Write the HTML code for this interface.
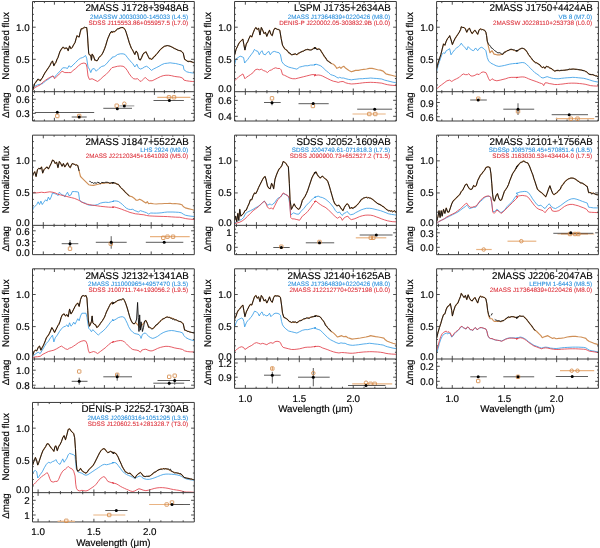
<!DOCTYPE html>
<html><head><meta charset="utf-8"><style>
html,body{margin:0;padding:0;background:#fff;width:600px;height:548px;overflow:hidden}
svg{display:block;font-family:"Liberation Sans",sans-serif;will-change:transform}
text{stroke:#000;stroke-width:0.16px}
text.b{stroke:#2a8fdc;stroke-width:0.08px}
text.r{stroke:#dc2e38;stroke-width:0.08px}
</style></head><body>
<svg width="600" height="548" viewBox="0 0 600 548" text-rendering="geometricPrecision" font-family='"Liberation Sans", sans-serif'><rect width="600" height="548" fill="#fff"/><clipPath id="c00"><rect x="32.5" y="1.5" width="161.8" height="90.2"/></clipPath>
<g clip-path="url(#c00)" fill="none" stroke-linejoin="round">
<path d="M32.68,89.68 34.73,86.26 37.47,84.89 40.2,84.21 42.93,83.52 45.67,80.79 49.08,78.74 52.5,76 54.55,77.37 56.6,74.64 60.02,71.22 62.75,67.8 65.48,67.8 67.53,68.48 68.9,65.75 70.95,67.12 73,65.07 75.73,62.33 78.47,59.6 80.52,58.23 82.57,57.55 83.93,56.86 85.57,55.5 86.67,58.23 88.03,67.12 89.4,69.17 90.77,72.59 92.13,69.17 94.18,68.48 96.23,71.22 98.97,68.48 101.7,66.43 104.43,65.75 107.17,63.02 109.9,59.6 111.95,58.23 112,57.28 114.77,56.58 117.53,54.51 120.3,53.82 123.07,53.82 125.14,54.51 127.22,57.28 129.98,60.74 132.75,63.5 134.82,66.96 136.9,64.19 138.28,67.65 140.36,69.04 142.43,68.34 144.51,66.96 146.58,66.27 148.66,67.65 151.43,70.42 153.5,69.04 156.27,67.65 159.03,66.27 161.8,64.61 164.57,63.5 167.33,63.23 170.1,62.81 172.87,63.23 175.63,63.5 178.4,64.19 181.17,64.89 183.24,65.58 183.93,69.73 186.7,71.8 189.47,72.49 192.23,72.91 195,73.19" stroke="#3a9ee6" stroke-width="0.85"/>
<path d="M32.68,90.36 34.73,87.62 37.47,86.26 40.2,84.89 42.93,82.16 45.67,80.11 49.77,77.37 53.18,76 54.55,78.74 56.6,76.69 59.33,73.95 62.07,71.22 64.8,72.59 68.22,72.59 70.95,72.59 73,70.54 75.73,68.48 78.47,65.75 81.2,63.7 83.93,63.02 85.98,63.7 86.94,67.12 88.03,76 89.4,79.42 92.13,78.74 94.87,80.11 97.6,81.47 100.33,79.42 103.07,76.69 105.8,74.64 108.53,71.9 111.27,68.48 112,67.65 114.77,66.96 117.53,66.27 120.3,65.99 123.07,66.27 125.14,67.65 127.22,70.42 129.29,73.88 131.37,76.64 133.44,78.72 135.52,79 137.59,78.72 139.67,80.79 141.05,81.49 143.12,79.41 145.2,77.34 147.28,79.41 149.35,80.79 152.12,80.79 154.88,79.41 157.65,78.03 160.42,76.64 163.18,75.68 165.95,75.26 168.72,75.26 171.48,75.68 174.25,76.37 177.02,76.78 179.78,77.06 182.55,78.03 183.93,80.1 186.7,80.79 189.47,81.21 192.23,81.49 195,81.49" stroke="#e2404a" stroke-width="0.85"/>
<path d="M32.68,90.36 34.73,83.52 36.78,80.79 38.83,79.42 40.2,80.79 42.25,78.05 44.3,73.95 47.03,69.85 49.77,65.75 52.5,60.96 53.87,65.75 55.92,62.33 57.97,57.55 60.02,51.39 62.75,47.29 64.8,48.66 66.85,47.98 68.22,50.71 69.58,45.93 70.95,48.66 72.32,47.29 75.05,42.51 77.1,35.67 79.15,37.04 81.2,28.84 83.25,28.15 85.3,27.47 86.67,27.47 87.35,32.94 88.03,43.88 88.72,53.45 89.4,54.81 90.77,55.5 91.45,60.28 92.13,54.13 93.5,56.18 94.87,60.28 96.92,60.96 98.97,57.55 101.7,54.81 103.75,50.71 105.8,45.24 107.85,38.41 109.9,33.62 111.95,31.57 112,32.38 114.77,31.68 117.53,28.92 120.3,27.81 123.07,27.53 125.14,29.61 127.22,35.83 129.29,42.75 131.37,48.28 133.44,51.74 134.82,54.51 136.21,51.05 137.59,53.13 138.97,59.35 140.36,60.04 141.74,57.28 143.82,53.13 145.89,51.74 147.28,54.51 149.35,58.66 151.43,59.35 153.5,57.28 156.27,54.51 159.03,51.05 161.8,48.28 164.57,46.21 167.33,45.52 170.1,46.21 172.87,47.59 175.63,48.98 178.4,50.36 181.17,51.05 183.24,53.13 184.62,59.35 186.7,60.74 189.47,61.43 192.23,62.12 195,62.81" stroke="#cf8f56" stroke-width="1.15"/>
<path d="M32.68,90.36 33.71,86.87 34.73,83.52 35.76,82.37 36.78,80.79 37.81,79.08 38.83,79.42 40.2,80.79 41.23,78.92 42.25,78.05 43.27,75.95 44.3,73.95 45.67,71.65 47.03,69.85 48.4,67.77 49.77,65.75 51.13,62.71 52.5,60.96 53.87,65.75 54.89,63.55 55.92,62.33 56.94,59.22 57.97,57.55 58.99,54.3 60.02,51.39 61.38,49.14 62.75,47.29 63.77,47.32 64.8,48.66 65.82,47.87 66.85,47.98 68.22,50.71 69.58,45.93 70.95,48.66 72.32,47.29 73.68,44.56 75.05,42.51 76.07,38.53 77.1,35.67 78.12,36.71 79.15,37.04 80.17,32.12 81.2,28.84 82.22,28.86 83.25,28.15 84.28,27.15 85.3,27.47 86.67,27.47 87.35,32.94 88.03,43.88 88.72,53.45 89.4,54.81 90.77,55.5 91.45,60.28 92.13,54.13 93.5,56.18 94.87,60.28 95.89,59.99 96.92,60.96 97.94,59.74 98.97,57.55 100.33,56.02 101.7,54.81 102.72,53.19 103.75,50.71 104.78,48.32 105.8,45.24 106.82,41.62 107.85,38.41 108.88,36.14 109.9,33.62 110.92,31.79 111.95,31.57 112,32.38 113.38,31.42 114.77,31.68 116.15,30.14 117.53,28.92 118.92,28.76 120.3,27.81 121.68,27.44 123.07,27.53 124.1,28.7 125.14,29.61 126.18,32.33 127.22,35.83 128.25,39.2 129.29,42.75 130.33,45.5 131.37,48.28 132.4,49.54 133.44,51.74 134.82,54.51 136.21,51.05 137.59,53.13 138.97,59.35 140.36,60.04 141.74,57.28 142.78,54.43 143.82,53.13 144.85,52.77 145.89,51.74 147.28,54.51 148.31,56.58 149.35,58.66 150.39,58.34 151.43,59.35 152.46,58.99 153.5,57.28 154.88,56.3 156.27,54.51 157.65,53.12 159.03,51.05 160.42,49.49 161.8,48.28 163.18,47.09 164.57,46.21 165.95,45.97 167.33,45.52 168.72,45.81 170.1,46.21 171.48,46.84 172.87,47.59 174.25,48.53 175.63,48.98 177.02,49.77 178.4,50.36 179.78,50.58 181.17,51.05 182.2,52.03 183.24,53.13 184.62,59.35 185.66,59.89 186.7,60.74 188.08,61.73 189.47,61.43 190.85,61.31 192.23,62.12 193.62,62.62 195,62.81" stroke="#141414" stroke-width="0.95"/>
</g>
<path d="M34.4,1.5v1.6M34.4,90.1v3.2M34.4,121v-1.6M44.4,1.5v1.6M44.4,90.1v3.2M44.4,121v-1.6M54.4,1.5v3.2M54.4,88.5v6.4M54.4,121v-3.2M64.4,1.5v1.6M64.4,90.1v3.2M64.4,121v-1.6M74.4,1.5v1.6M74.4,90.1v3.2M74.4,121v-1.6M84.4,1.5v1.6M84.4,90.1v3.2M84.4,121v-1.6M94.4,1.5v1.6M94.4,90.1v3.2M94.4,121v-1.6M104.4,1.5v3.2M104.4,88.5v6.4M104.4,121v-3.2M114.4,1.5v1.6M114.4,90.1v3.2M114.4,121v-1.6M124.4,1.5v1.6M124.4,90.1v3.2M124.4,121v-1.6M134.4,1.5v1.6M134.4,90.1v3.2M134.4,121v-1.6M144.4,1.5v1.6M144.4,90.1v3.2M144.4,121v-1.6M154.4,1.5v3.2M154.4,88.5v6.4M154.4,121v-3.2M164.4,1.5v1.6M164.4,90.1v3.2M164.4,121v-1.6M174.4,1.5v1.6M174.4,90.1v3.2M174.4,121v-1.6M184.4,1.5v1.6M184.4,90.1v3.2M184.4,121v-1.6M32.5,84.98h1.4M194.3,84.98h-1.4M32.5,78.56h1.4M194.3,78.56h-1.4M32.5,72.14h1.4M194.3,72.14h-1.4M32.5,65.72h1.4M194.3,65.72h-1.4M32.5,59.3h3.2M194.3,59.3h-3.2M32.5,52.88h1.4M194.3,52.88h-1.4M32.5,46.46h1.4M194.3,46.46h-1.4M32.5,40.04h1.4M194.3,40.04h-1.4M32.5,33.62h1.4M194.3,33.62h-1.4M32.5,27.2h3.2M194.3,27.2h-3.2M32.5,20.78h1.4M194.3,20.78h-1.4M32.5,14.36h1.4M194.3,14.36h-1.4M32.5,7.94h1.4M194.3,7.94h-1.4M32.5,95.5h1.4M194.3,95.5h-1.4M32.5,99.2h3.2M194.3,99.2h-3.2M32.5,102.6h1.4M194.3,102.6h-1.4M32.5,106.6h1.4M194.3,106.6h-1.4M32.5,110.1h1.4M194.3,110.1h-1.4M32.5,113.4h3.2M194.3,113.4h-3.2M32.5,117.1h1.4M194.3,117.1h-1.4M32.5,120.4h1.4M194.3,120.4h-1.4" stroke="#3a3a3a" stroke-width="0.9" fill="none"/>
<path d="M32.5,1.5H194.3V121H32.5ZM32.5,91.7H194.3" stroke="#3a3a3a" stroke-width="1.0" fill="none"/>
<path d="M34.8,112.5H94.2" stroke="#4a4a4a" stroke-width="0.9"/>
<circle cx="57.3" cy="112.3" r="1.5" fill="#000"/>
<rect x="55.6" y="114.3" width="3.4" height="3.4" rx="0.5" fill="none" stroke="#d48a48" stroke-width="0.85"/>
<path d="M71.7,117H86.7" stroke="#4a4a4a" stroke-width="0.9"/>
<rect x="77.5" y="114.3" width="3.4" height="3.4" rx="0.5" fill="none" stroke="#d48a48" stroke-width="0.85"/>
<circle cx="79.2" cy="117" r="1.5" fill="#000"/>
<path d="M103.3,108.3H132" stroke="#4a4a4a" stroke-width="0.9"/>
<rect x="115" y="104" width="3.4" height="3.4" rx="0.5" fill="none" stroke="#d48a48" stroke-width="0.85"/>
<circle cx="117.3" cy="108.7" r="1.5" fill="#000"/>
<path d="M119.3,105.9H134.3" stroke="#888" stroke-width="0.9"/>
<circle cx="124.3" cy="103.7" r="1.75" fill="none" stroke="#d48a48" stroke-width="0.85"/>
<circle cx="124.3" cy="105.9" r="1.5" fill="#000"/>
<path d="M157.3,97.3H190.4" stroke="#e9b382" stroke-width="1.2"/>
<rect x="167.3" y="95.6" width="3.4" height="3.4" rx="0.5" fill="none" stroke="#d48a48" stroke-width="0.85"/>
<rect x="172.3" y="95.6" width="3.4" height="3.4" rx="0.5" fill="none" stroke="#d48a48" stroke-width="0.85"/>
<path d="M153.5,100.5H183.9" stroke="#4a4a4a" stroke-width="0.9"/>
<circle cx="169.4" cy="100.5" r="1.5" fill="#000"/>
<text x="188.8" y="11.2" font-size="9.82" text-anchor="end" fill="#000">2MASS J1728+3948AB</text>
<text x="188.1" y="18.6" font-size="6.3" text-anchor="end" fill="#2a8fdc" class="b">2MASSW J0030300-145033 (L4.5)</text>
<text x="188.1" y="24.6" font-size="6.3" text-anchor="end" fill="#dc2e38" class="r">SDSS J115553.86+055957.5 (L7.0)</text>
<text x="29.7" y="30.7" font-size="9.8" text-anchor="end">1.0</text>
<text x="29.7" y="62.8" font-size="9.8" text-anchor="end">0.5</text>
<text x="29.7" y="92.2" font-size="9.8" text-anchor="end">0.0</text>
<text x="29.7" y="102.9" font-size="9.8" text-anchor="end">0.6</text>
<text x="29.7" y="117.1" font-size="9.8" text-anchor="end">0.3</text>
<text transform="translate(9.3,45.9) rotate(-90)" font-size="9.8" text-anchor="middle">Normalized flux</text>
<text transform="translate(9.3,105.1) rotate(-90)" font-size="9.8" text-anchor="middle">&#916;mag</text>
<clipPath id="c01"><rect x="234.55" y="1.5" width="161.8" height="90.2"/></clipPath>
<g clip-path="url(#c01)" fill="none" stroke-linejoin="round">
<path d="M234.68,64.38 236.05,58.91 238.1,57.55 240.15,56.18 242.2,56.86 243.57,57.55 244.66,63.02 246.3,60.96 247.67,59.6 249.03,57.55 251.08,54.81 253.13,52.08 254.5,49.34 255.87,50.71 257.92,51.39 259.28,54.81 260.65,52.08 262.02,50.71 263.38,54.13 265.43,54.81 266.8,52.76 268.85,51.39 270.22,54.81 272.27,52.08 274.32,51.39 276.37,52.08 279.1,52.76 280.47,54.81 281.83,61.65 283.88,64.38 285.93,65.75 288.67,67.12 291.4,67.8 294.13,68.48 296.87,69.17 299.6,67.12 302.33,66.43 305.07,65.75 307.8,65.75 310.53,65.07 313.27,65.07 316,64.38 314,64.89 316.07,64.19 318.15,64.89 320.23,65.58 322.3,66.96 324.38,69.04 326.45,71.11 328.52,72.49 330.6,74.57 332.68,75.26 334.75,75.95 336.82,77.34 338.21,78.03 339.59,77.34 341.67,78.03 343.74,78.03 345.82,78.72 348.58,79.41 351.35,79.83 354.12,79.41 356.88,79.13 359.65,78.72 362.42,78.72 365.18,78.44 367.95,78.3 370.72,78.03 373.48,78.3 376.25,78.44 379.02,78.72 381.78,79 384.55,80.1 387.32,80.79 390.08,81.49 392.85,82.18 395.62,82.59 397,82.87" stroke="#3a9ee6" stroke-width="0.85"/>
<path d="M234.68,80.79 236.73,78.74 238.78,76.69 240.83,75.32 242.88,73.95 243.84,76 244.93,78.74 246.3,77.37 248.35,76 250.4,74.64 253.13,72.59 255.18,69.85 257.23,69.17 259.28,69.85 261.33,69.17 263.38,70.54 265.43,71.22 267.48,72.59 269.53,70.54 271.58,69.85 273.63,68.48 275.68,67.8 277.73,68.48 279.78,68.48 281.15,69.85 282.52,74.64 284.57,75.32 287.3,76.69 290.03,78.05 292.77,78.74 295.5,78.74 298.23,78.05 300.97,77.37 303.7,76.69 306.43,76 309.17,75.32 311.9,74.64 316,74.64 314,75.95 316.07,75.26 318.15,74.98 320.23,75.26 322.3,75.95 325.07,77.34 327.83,78.72 330.6,80.1 333.37,81.21 336.13,81.76 338.21,82.45 340.28,81.76 343.05,81.49 345.82,82.87 348.58,83.56 351.35,83.98 354.12,83.84 356.88,83.56 359.65,83.28 362.42,82.87 365.18,82.59 367.95,82.45 370.72,82.32 373.48,82.45 376.25,82.59 379.02,82.87 381.78,83.15 384.55,83.98 387.32,84.67 390.08,85.08 392.85,85.36 397,85.64" stroke="#e2404a" stroke-width="0.85"/>
<path d="M234.68,54.81 236.05,49.34 237.42,46.61 239.47,42.51 241.52,40.46 242.88,39.09 243.84,44.56 244.93,50.03 246.3,43.88 247.67,41.82 249.03,38.41 250.4,35.67 251.77,37.04 253.13,32.94 254.5,29.52 255.87,27.47 257.23,29.52 258.6,28.15 259.97,34.99 261.33,27.47 262.7,30.2 264.07,33.62 265.43,32.25 266.8,36.36 268.17,32.94 269.53,30.2 270.9,34.3 272.27,35.67 273.63,30.2 275,28.15 276.37,28.84 277.73,29.52 279.78,30.2 281.15,38.41 282.52,45.24 284.57,48.66 286.62,50.03 288.67,52.76 291.4,54.81 294.13,54.13 296.87,54.81 299.6,52.76 302.33,51.39 305.07,50.03 307.8,49.34 310.53,50.03 313.27,48.66 316,47.98 314,47.59 316.07,48.28 318.15,48.98 320.23,49.67 322.3,53.13 324.38,56.58 326.45,59.35 328.52,61.43 330.6,62.81 331.29,63.5 333.37,64.19 335.44,66.27 336.82,68.34 338.21,67.65 339.59,66.96 340.98,68.34 342.36,66.96 343.74,66.27 345.82,68.34 347.89,69.73 349.97,71.11 351.35,71.8 353.43,71.11 355.5,70.42 358.27,70.42 361.03,69.73 363.8,69.31 366.57,69.04 369.33,68.34 372.1,68.34 374.87,69.04 377.63,69.73 380.4,70.14 383.17,71.11 384.55,72.49 385.93,73.88 388.7,74.57 391.47,75.26 394.23,75.95 397,76.64" stroke="#cf8f56" stroke-width="1.15"/>
<path d="M234.68,54.81 236.05,49.34 237.42,46.61 238.44,44.06 239.47,42.51 240.49,41.46 241.52,40.46 242.88,39.09 243.84,44.56 244.93,50.03 246.3,43.88 247.67,41.82 249.03,38.41 250.4,35.67 251.77,37.04 253.13,32.94 254.5,29.52 255.87,27.47 257.23,29.52 258.6,28.15 259.97,34.99 261.33,27.47 262.7,30.2 264.07,33.62 265.43,32.25 266.8,36.36 268.17,32.94 269.53,30.2 270.9,34.3 272.27,35.67 273.63,30.2 275,28.15 276.37,28.84 277.73,29.52 278.76,29.45 279.78,30.2 281.15,38.41 282.52,45.24 283.54,46.79 284.57,48.66 285.59,49.48 286.62,50.03 287.64,51.17 288.67,52.76 290.03,53.06 291.4,54.81 292.77,54.71 294.13,54.13 295.5,53.7 296.87,54.81 298.23,53.18 299.6,52.76 300.97,51.98 302.33,51.39 303.7,51.12 305.07,50.03 306.43,49.6 307.8,49.34 309.17,49.91 310.53,50.03 311.9,49.82 313.27,48.66 314.63,48.56 316,47.98 315,47.61 314,47.59 315.04,48.5 316.07,48.28 317.11,50.04 318.15,48.98 319.19,48.97 320.23,49.67 321.26,51.47 322.3,53.13 323.34,54.46 324.38,56.58 325.41,57.25 326.45,59.35 327.49,61.03 328.52,61.43 329.56,62.2 330.6,62.81 331.29,63.5" stroke="#141414" stroke-width="0.95"/>
</g>
<path d="M245.35,1.5v3.2M245.35,88.5v6.4M245.35,121v-3.2M256.14,1.5v1.6M256.14,90.1v3.2M256.14,121v-1.6M266.93,1.5v1.6M266.93,90.1v3.2M266.93,121v-1.6M277.72,1.5v1.6M277.72,90.1v3.2M277.72,121v-1.6M288.51,1.5v1.6M288.51,90.1v3.2M288.51,121v-1.6M299.3,1.5v3.2M299.3,88.5v6.4M299.3,121v-3.2M310.09,1.5v1.6M310.09,90.1v3.2M310.09,121v-1.6M320.88,1.5v1.6M320.88,90.1v3.2M320.88,121v-1.6M331.67,1.5v1.6M331.67,90.1v3.2M331.67,121v-1.6M342.46,1.5v1.6M342.46,90.1v3.2M342.46,121v-1.6M353.25,1.5v3.2M353.25,88.5v6.4M353.25,121v-3.2M364.04,1.5v1.6M364.04,90.1v3.2M364.04,121v-1.6M374.83,1.5v1.6M374.83,90.1v3.2M374.83,121v-1.6M385.62,1.5v1.6M385.62,90.1v3.2M385.62,121v-1.6M234.55,84.98h1.4M396.35,84.98h-1.4M234.55,78.56h1.4M396.35,78.56h-1.4M234.55,72.14h1.4M396.35,72.14h-1.4M234.55,65.72h1.4M396.35,65.72h-1.4M234.55,59.3h3.2M396.35,59.3h-3.2M234.55,52.88h1.4M396.35,52.88h-1.4M234.55,46.46h1.4M396.35,46.46h-1.4M234.55,40.04h1.4M396.35,40.04h-1.4M234.55,33.62h1.4M396.35,33.62h-1.4M234.55,27.2h3.2M396.35,27.2h-3.2M234.55,20.78h1.4M396.35,20.78h-1.4M234.55,14.36h1.4M396.35,14.36h-1.4M234.55,7.94h1.4M396.35,7.94h-1.4M234.55,96.3h1.4M396.35,96.3h-1.4M234.55,100.3h3.2M396.35,100.3h-3.2M234.55,104.3h1.4M396.35,104.3h-1.4M234.55,108.3h1.4M396.35,108.3h-1.4M234.55,112.3h1.4M396.35,112.3h-1.4M234.55,116.3h3.2M396.35,116.3h-3.2M234.55,120.3h1.4M396.35,120.3h-1.4" stroke="#3a3a3a" stroke-width="0.9" fill="none"/>
<path d="M234.55,1.5H396.35V121H234.55ZM234.55,91.7H396.35" stroke="#3a3a3a" stroke-width="1.0" fill="none"/>
<path d="M264,102.5H280.7" stroke="#4a4a4a" stroke-width="0.9"/>
<path d="M272,100.8V105.3" stroke="#4a4a4a" stroke-width="0.9"/>
<rect x="270.3" y="96.6" width="3.4" height="3.4" rx="0.5" fill="none" stroke="#d48a48" stroke-width="0.85"/>
<circle cx="272" cy="102.8" r="1.5" fill="#000"/>
<path d="M298.5,103.7H328.7" stroke="#4a4a4a" stroke-width="0.9"/>
<rect x="311.2" y="104.3" width="3.4" height="3.4" rx="0.5" fill="none" stroke="#d48a48" stroke-width="0.85"/>
<circle cx="313.2" cy="103.4" r="1.5" fill="#000"/>
<path d="M352.5,114H385.7" stroke="#e9b382" stroke-width="1.2"/>
<rect x="367.6" y="112.3" width="3.4" height="3.4" rx="0.5" fill="none" stroke="#d48a48" stroke-width="0.85"/>
<rect x="373.6" y="112.3" width="3.4" height="3.4" rx="0.5" fill="none" stroke="#d48a48" stroke-width="0.85"/>
<path d="M357.2,109.2H392.1" stroke="#4a4a4a" stroke-width="0.9"/>
<circle cx="374.7" cy="109.2" r="1.5" fill="#000"/>
<text x="390.85" y="11.2" font-size="9.82" text-anchor="end" fill="#000">LSPM J1735+2634AB</text>
<text x="390.15" y="18.6" font-size="6.3" text-anchor="end" fill="#2a8fdc" class="b">2MASS J17364839+0220426 (M8.0)</text>
<text x="390.15" y="24.6" font-size="6.3" text-anchor="end" fill="#dc2e38" class="r">DENIS-P J220002.05-303832.9B (L0.0)</text>
<text x="231.75" y="30.7" font-size="9.8" text-anchor="end">1.0</text>
<text x="231.75" y="62.8" font-size="9.8" text-anchor="end">0.5</text>
<text x="231.75" y="92.2" font-size="9.8" text-anchor="end">0.0</text>
<text x="231.75" y="104.3" font-size="9.8" text-anchor="end">0.6</text>
<text x="231.75" y="120.2" font-size="9.8" text-anchor="end">0.4</text>
<text transform="translate(211.35,45.9) rotate(-90)" font-size="9.8" text-anchor="middle">Normalized flux</text>
<text transform="translate(211.35,105.1) rotate(-90)" font-size="9.8" text-anchor="middle">&#916;mag</text>
<clipPath id="c02"><rect x="436.6" y="1.5" width="161.8" height="90.2"/></clipPath>
<g clip-path="url(#c02)" fill="none" stroke-linejoin="round">
<path d="M436.68,71.22 438.05,65.75 439.42,61.65 440.78,57.55 442.15,54.13 443.52,52.76 444.88,53.45 446.25,50.71 447.62,50.03 449.67,48.66 451.03,54.81 452.4,52.76 454.45,50.03 456.5,47.98 458.55,46.61 459.92,45.24 461.28,43.19 462.65,45.24 464.02,46.61 465.38,47.98 466.75,50.03 468.12,46.61 469.48,47.98 471.53,50.03 473.58,50.71 475.63,47.98 477.68,50.71 479.73,47.98 481.78,47.29 483.83,48.66 485.88,50.71 487.25,57.55 488.62,60.96 490.67,63.02 493.4,64.38 496.13,65.75 498.87,66.43 501.6,66.02 504.33,65.48 507.07,64.79 509.8,64.11 512.53,63.7 515.27,63.43 518,63.43 516,63.5 518.08,63.23 520.15,62.81 522.23,62.53 524.3,62.81 526.38,64.19 528.45,66.27 530.52,68.34 532.6,70.42 534.67,72.49 536.75,73.88 538.83,75.26 540.9,77.34 542.98,78.03 545.05,77.34 547.12,76.64 549.2,77.34 551.27,78.03 553.35,78.44 556.12,78.72 558.88,78.72 561.65,78.3 564.42,78.03 567.18,77.75 569.95,77.61 572.72,77.34 575.48,77.47 578.25,77.75 581.02,78.03 583.78,78.3 586.55,79 589.32,79.83 592.08,80.79 594.85,81.49 599,82.18" stroke="#3a9ee6" stroke-width="0.85"/>
<path d="M436.68,88.99 438.73,86.94 441.47,84.89 444.2,82.84 446.93,80.79 449.67,80.11 451.72,81.47 453.77,80.11 456.5,78.74 459.23,77.37 461.28,75.32 463.33,73.95 465.38,74.64 467.43,74.64 468.8,73.68 470.85,76 472.9,76 474.95,75.32 477,73.95 479.05,74.64 481.1,72.59 483.15,71.9 485.88,72.59 487.25,75.32 488.62,78.74 489.98,80.79 492.03,78.74 494.08,80.11 496.82,80.79 500.23,80.11 502.97,79.42 505.7,78.74 508.43,77.78 511.17,77.37 513.9,77.37 518,77.37 516,77.75 518.08,77.34 520.15,77.06 522.23,76.92 524.3,77.06 526.38,77.75 528.45,78.72 531.22,79.83 533.98,80.79 536.75,81.76 539.52,82.87 541.59,83.56 542.98,84.25 543.67,85.64 545.05,82.87 547.12,82.87 549.2,83.56 551.97,83.98 554.73,84.53 557.5,84.53 560.27,84.25 563.03,83.98 565.8,83.56 568.57,83.28 571.33,83.15 574.1,83.15 576.87,83.28 579.63,83.56 582.4,83.84 585.17,84.25 587.93,84.94 590.7,85.64 593.47,85.91 596.23,86.05 599,86.05" stroke="#e2404a" stroke-width="0.85"/>
<path d="M436.68,68.48 438.05,63.02 439.42,58.91 440.78,54.81 442.15,49.34 443.52,43.88 444.88,45.24 446.25,41.14 447.62,38.41 448.98,37.04 449.67,35.67 451.03,39.77 452.4,44.56 453.77,41.14 455.13,38.41 456.5,36.36 457.87,34.3 459.23,32.25 460.6,29.52 461.28,26.79 462.65,27.47 464.02,27.47 465.38,28.84 466.75,32.25 468.12,29.52 469.48,28.15 470.85,31.57 472.22,33.62 473.58,31.57 474.95,30.2 476.32,32.25 477.68,34.3 479.05,30.2 480.42,28.84 482.47,29.52 484.52,30.2 485.88,32.25 486.57,35.67 487.25,41.14 488.62,47.29 489.98,52.76 492.03,50.71 494.08,54.13 496.82,54.81 500.23,54.81 502.97,54.13 505.02,52.08 507.07,50.71 509.12,50.03 511.17,49.34 513.22,50.03 515.27,50.71 518,50.71 516,51.05 518.08,50.36 520.15,48.98 522.23,48.28 524.3,48.98 526.38,51.05 528.45,54.51 530.52,57.28 532.6,60.04 534.67,62.12 536.75,62.81 538.83,64.19 540.9,66.27 542.28,67.65 543.67,66.96 545.05,68.34 546.43,66.27 548.51,66.96 550.58,68.34 552.66,69.73 554.73,71.11 556.81,70.42 559.58,70.7 562.34,70.42 565.11,70.14 567.88,69.73 570.64,69.31 573.41,69.04 576.17,69.31 578.94,69.73 581.71,70.14 584.48,70.7 586.55,71.8 588.62,73.88 591.39,74.57 594.16,75.26 596.92,75.95 599,76.64" stroke="#cf8f56" stroke-width="1.15"/>
<path d="M436.68,68.48 438.05,63.02 439.42,58.91 440.78,54.81 442.15,49.34 443.52,43.88 444.88,45.24 446.25,41.14 447.62,38.41 448.98,37.04 449.67,35.67 451.03,39.77 452.4,44.56 453.77,41.14 455.13,38.41 456.5,36.36 457.87,34.3 459.23,32.25 460.6,29.52 461.28,26.79 462.65,27.47 464.02,27.47 465.38,28.84 466.75,32.25 468.12,29.52 469.48,28.15 470.85,31.57 472.22,33.62 473.58,31.57 474.95,30.2 476.32,32.25 477.68,34.3 479.05,30.2 480.42,28.84 481.44,29.81 482.47,29.52 483.49,29.93 484.52,30.2 485.88,32.25 486.57,35.67 487.25,41.14 488.62,44.56 489.64,45.2 490.67,46.61 491.69,48.28 492.72,48.66 493.74,49.66 494.77,50.71 495.79,51.4 496.82,52.08 497.84,52.83 498.87,52.76 499.89,52.74 500.92,53.45 501.94,54.32 502.97,54.13 503.99,52.24 505.02,52.08 506.04,51.78 507.07,50.71 508.09,50.7 509.12,50.03 510.14,49.44 511.17,49.34 512.19,49.41 513.22,50.03 514.24,49.55 515.27,50.71 516.63,51.09 518,50.71 517,50.59 516,51.05 517.04,50.5 518.08,50.36 519.11,49.45 520.15,48.98 521.19,48.34 522.23,48.28 523.26,48.36 524.3,48.98 525.34,49.61 526.38,51.05 527.41,52.35 528.45,54.51 529.49,55.75 530.52,57.28 531.56,58.26 532.6,60.04 533.64,60.74 534.67,62.12 535.71,62.97 536.75,62.81 537.79,63.87 538.83,64.19 539.86,64.75 540.9,66.27 542.28,67.65 543.67,66.96 545.05,68.34 546.43,66.27 547.47,66.76 548.51,66.96 549.55,67.99 550.58,68.34 551.62,68.52 552.66,69.73 553.7,70.36 554.73,71.11 555.77,70.76 556.81,70.42 558.19,70.28 559.58,70.7 560.96,70.26 562.34,70.42 563.73,70.24 565.11,70.14 566.49,69.91 567.88,69.73 569.26,69.02 570.64,69.31 572.02,69.1 573.41,69.04 574.79,69.23 576.17,69.31 577.56,69.38 578.94,69.73 580.33,69.85 581.71,70.14 583.09,70.67 584.48,70.7 585.51,71.74 586.55,71.8 587.59,72.58 588.62,73.88 590.01,74.59 591.39,74.57 592.77,74.49 594.16,75.26 595.54,75.92 596.92,75.95 597.96,77.26 599,76.64" stroke="#141414" stroke-width="0.95"/>
</g>
<path d="M441.81,1.5v1.6M441.81,90.1v3.2M441.81,121v-1.6M452.25,1.5v3.2M452.25,88.5v6.4M452.25,121v-3.2M462.69,1.5v1.6M462.69,90.1v3.2M462.69,121v-1.6M473.13,1.5v1.6M473.13,90.1v3.2M473.13,121v-1.6M483.57,1.5v1.6M483.57,90.1v3.2M483.57,121v-1.6M494.01,1.5v1.6M494.01,90.1v3.2M494.01,121v-1.6M504.45,1.5v3.2M504.45,88.5v6.4M504.45,121v-3.2M514.89,1.5v1.6M514.89,90.1v3.2M514.89,121v-1.6M525.33,1.5v1.6M525.33,90.1v3.2M525.33,121v-1.6M535.77,1.5v1.6M535.77,90.1v3.2M535.77,121v-1.6M546.21,1.5v1.6M546.21,90.1v3.2M546.21,121v-1.6M556.65,1.5v3.2M556.65,88.5v6.4M556.65,121v-3.2M567.09,1.5v1.6M567.09,90.1v3.2M567.09,121v-1.6M577.53,1.5v1.6M577.53,90.1v3.2M577.53,121v-1.6M587.97,1.5v1.6M587.97,90.1v3.2M587.97,121v-1.6M436.6,84.98h1.4M598.4,84.98h-1.4M436.6,78.56h1.4M598.4,78.56h-1.4M436.6,72.14h1.4M598.4,72.14h-1.4M436.6,65.72h1.4M598.4,65.72h-1.4M436.6,59.3h3.2M598.4,59.3h-3.2M436.6,52.88h1.4M598.4,52.88h-1.4M436.6,46.46h1.4M598.4,46.46h-1.4M436.6,40.04h1.4M598.4,40.04h-1.4M436.6,33.62h1.4M598.4,33.62h-1.4M436.6,27.2h3.2M598.4,27.2h-3.2M436.6,20.78h1.4M598.4,20.78h-1.4M436.6,14.36h1.4M598.4,14.36h-1.4M436.6,7.94h1.4M598.4,7.94h-1.4M436.6,95.4h1.4M598.4,95.4h-1.4M436.6,98.95h1.4M598.4,98.95h-1.4M436.6,102.5h3.2M598.4,102.5h-3.2M436.6,106.05h1.4M598.4,106.05h-1.4M436.6,109.6h1.4M598.4,109.6h-1.4M436.6,113.15h1.4M598.4,113.15h-1.4M436.6,116.7h3.2M598.4,116.7h-3.2M436.6,120.25h1.4M598.4,120.25h-1.4" stroke="#3a3a3a" stroke-width="0.9" fill="none"/>
<path d="M436.6,1.5H598.4V121H436.6ZM436.6,91.7H598.4" stroke="#3a3a3a" stroke-width="1.0" fill="none"/>
<path d="M470.2,100H486.8" stroke="#4a4a4a" stroke-width="0.9"/>
<rect x="476.5" y="97" width="3.4" height="3.4" rx="0.5" fill="none" stroke="#d48a48" stroke-width="0.85"/>
<circle cx="478.2" cy="100" r="1.5" fill="#000"/>
<path d="M503.3,109.2H534.2" stroke="#4a4a4a" stroke-width="0.9"/>
<path d="M518,103.3V115" stroke="#4a4a4a" stroke-width="0.9"/>
<rect x="516.3" y="109.6" width="3.4" height="3.4" rx="0.5" fill="none" stroke="#d48a48" stroke-width="0.85"/>
<circle cx="518" cy="109.2" r="1.5" fill="#000"/>
<path d="M555.8,118.7H594.2" stroke="#e9b382" stroke-width="1.2"/>
<rect x="569.1" y="117" width="3.4" height="3.4" rx="0.5" fill="none" stroke="#d48a48" stroke-width="0.85"/>
<rect x="575.8" y="117" width="3.4" height="3.4" rx="0.5" fill="none" stroke="#d48a48" stroke-width="0.85"/>
<path d="M551.7,114.7H588" stroke="#4a4a4a" stroke-width="0.9"/>
<circle cx="569.2" cy="114.7" r="1.5" fill="#000"/>
<text x="592.9" y="11.2" font-size="9.82" text-anchor="end" fill="#000">2MASS J1750+4424AB</text>
<text x="592.2" y="18.6" font-size="6.3" text-anchor="end" fill="#2a8fdc" class="b">VB 8 (M7.0)</text>
<text x="592.2" y="24.6" font-size="6.3" text-anchor="end" fill="#dc2e38" class="r">2MASSW J0228110+253738 (L0.0)</text>
<text x="433.8" y="30.7" font-size="9.8" text-anchor="end">1.0</text>
<text x="433.8" y="62.8" font-size="9.8" text-anchor="end">0.5</text>
<text x="433.8" y="92.2" font-size="9.8" text-anchor="end">0.0</text>
<text x="433.8" y="106.5" font-size="9.8" text-anchor="end">0.9</text>
<text x="433.8" y="120.9" font-size="9.8" text-anchor="end">0.6</text>
<text transform="translate(413.4,45.9) rotate(-90)" font-size="9.8" text-anchor="middle">Normalized flux</text>
<text transform="translate(413.4,105.1) rotate(-90)" font-size="9.8" text-anchor="middle">&#916;mag</text>
<clipPath id="c10"><rect x="32.5" y="135.15" width="161.8" height="90.2"/></clipPath>
<g clip-path="url(#c10)" fill="none" stroke-linejoin="round">
<path d="M32.41,210.69 33.37,207.95 34.73,206.59 36.78,204.54 38.15,201.8 39.52,204.54 40.88,201.12 42.25,204.54 43.62,202.48 45.67,199.75 47.03,201.12 48.4,197.02 49.77,199.75 51.13,197.02 52.5,192.91 54.55,193.6 56.6,194.28 57.97,195.65 59.33,192.23 60.7,193.6 62.07,194.96 63.43,194.96 64.8,197.02 66.17,194.28 67.53,192.23 68.9,195.65 70.95,194.96 72.32,191.55 74.37,191.55 77.1,191.82 78.47,192.23 79.56,199.75 81.2,201.8 83.25,202.48 85.3,203.17 87.35,204.54 89.4,205.22 92.13,205.22 94.87,205.22 97.6,204.54 100.33,203.17 103.07,202.48 105.8,202.21 108.53,202.48 111.27,201.8 114,201.12 112,201.65 114.08,200.96 116.15,200.96 118.22,201.38 120.3,202.76 122.38,204.42 124.45,206.49 126.53,208.29 128.6,209.26 130.68,209.54 132.75,209.26 134.82,210.64 136.9,211.34 138.28,212.03 140.36,210.64 142.43,211.34 144.51,212.03 146.58,212.72 148.66,214.1 150.73,213 153.5,213.13 156.27,213.13 159.03,213 161.8,212.72 164.57,212.3 167.33,212.03 170.1,212.03 172.87,212.03 175.63,212.17 178.4,212.3 181.17,212.72 183.24,214.1 185.32,215.21 188.08,215.76 190.85,216.18 195,216.59" stroke="#3a9ee6" stroke-width="0.85"/>
<path d="M32.41,193.6 34.05,192.23 36.1,192.91 38.83,192.64 41.57,192.23 44.3,192.64 47.03,192.23 49.77,191.82 52.5,192.23 55.23,192.91 57.97,194.28 60.7,194.96 63.43,195.65 66.17,196.33 68.9,197.02 71.63,197.7 74.37,198.38 77.1,199.48 79.15,200.43 81.2,201.8 83.93,203.17 86.67,204.12 89.4,204.54 92.13,205.22 94.87,205.49 97.6,205.9 100.33,206.31 103.07,206.59 105.8,206.86 108.53,207.13 111.27,207.27 114,207.27 112,207.19 114.08,206.91 116.15,207.46 118.92,208.29 121.68,209.26 124.45,210.37 127.22,211.34 129.98,212.44 132.75,213.13 135.52,213.83 138.28,214.1 141.05,214.52 143.82,214.79 146.58,215.49 149.35,215.9 152.12,216.04 154.88,216.18 159.03,216.32 163.18,216.45 167.33,216.59 171.48,216.87 175.63,217.15 179.78,217.28 182.55,217.84 185.32,218.53 188.08,218.94 190.85,219.22 195,219.64" stroke="#e2404a" stroke-width="0.85"/>
<path d="M32.41,176.51 33.37,173.77 34.73,171.72 36.1,176.51 37.47,169.67 38.83,168.3 40.2,168.99 41.57,166.94 42.66,173.09 44.03,169.67 45.39,168.3 47.03,166.94 48.4,168.99 49.77,166.25 51.13,163.52 52.5,160.1 53.87,160.79 55.23,163.52 56.6,162.15 57.97,167.62 59.33,161.47 60.7,163.52 62.07,166.25 63.43,163.52 64.8,166.94 66.17,164.89 67.53,162.84 68.9,166.25 70.27,167.62 72.32,163.52 74.37,164.2 76.42,164.89 77.78,165.57 79.15,171.04 80.52,176.51 82.57,178.56 84.62,180.61 86.67,182.66 88.72,184.71 90.77,185.12 93.5,185.39 96.23,184.71 98.97,184.03 101.7,183.34 104.43,183.07 107.17,182.66 109.9,183.34 114,182.66 112,182.98 114.08,182.98 116.15,183.67 118.22,184.36 120.3,187.13 122.38,189.2 124.45,191.28 126.53,193.35 128.6,195.43 129.98,196.12 132.06,196.81 134.13,198.19 136.21,200.27 137.59,200.27 139.67,199.16 141.74,200.27 143.82,201.65 145.89,203.04 147.28,201.65 148.66,203.73 150.73,203.31 153.5,203.73 156.27,204 159.03,203.73 161.8,203.73 164.57,203.45 167.33,203.45 170.1,203.31 172.87,203.73 174.94,203.45 177.02,203.73 179.78,204.14 181.86,204.7 183.24,206.49 185.32,207.88 188.08,208.57 190.85,209.26 193.62,209.95 195,210.23" stroke="#cf8f56" stroke-width="1.15"/>
<path d="M32.41,176.51 33.37,173.77 34.73,171.72 36.1,176.51 37.47,169.67 38.83,168.3 40.2,168.99 41.57,166.94 42.66,173.09 44.03,169.67 45.39,168.3 47.03,166.94 48.4,168.99 49.77,166.25 51.13,163.52 52.5,160.1 53.87,160.79 55.23,163.52 56.6,162.15 57.97,167.62 59.33,161.47 60.7,163.52 62.07,166.25 63.43,163.52 64.8,166.94 66.17,164.89 67.53,162.84 68.9,166.25 70.27,167.62 71.29,165.11 72.32,163.52 73.34,164.01 74.37,164.2 75.39,165.29 76.42,164.89 77.78,165.57 79.15,171.04" stroke="#141414" stroke-width="0.95"/>
<path d="M89.4,181.29 90.42,181.5 91.45,182.66 92.47,182.51 93.5,183.34 94.87,182.73 96.23,183.34 97.6,182.3 98.97,182.66 100.33,183.77 101.7,182.39 103.07,182.67 104.43,182.66 105.8,182.23 107.17,182.25 108.53,182.51 109.9,183.34 110.92,182.93 111.95,182.66 112.97,182.97 114,182.39 113,182.87 112,182.98 113.04,182.74 114.08,182.98 115.11,182.96 116.15,183.67 117.19,184.29 118.22,184.36 119.26,185.26 120.3,187.13 121.34,188.05 122.38,189.2 123.41,189.83 124.45,191.28 125.49,192.6 126.53,193.35 127.56,194.1 128.6,195.43 129.29,195.84" stroke="#141414" stroke-width="0.95"/>
</g>
<path d="M43.3,135.15v3.2M43.3,222.15v6.4M43.3,254.65v-3.2M54.09,135.15v1.6M54.09,223.75v3.2M54.09,254.65v-1.6M64.88,135.15v1.6M64.88,223.75v3.2M64.88,254.65v-1.6M75.67,135.15v1.6M75.67,223.75v3.2M75.67,254.65v-1.6M86.46,135.15v1.6M86.46,223.75v3.2M86.46,254.65v-1.6M97.25,135.15v3.2M97.25,222.15v6.4M97.25,254.65v-3.2M108.04,135.15v1.6M108.04,223.75v3.2M108.04,254.65v-1.6M118.83,135.15v1.6M118.83,223.75v3.2M118.83,254.65v-1.6M129.62,135.15v1.6M129.62,223.75v3.2M129.62,254.65v-1.6M140.41,135.15v1.6M140.41,223.75v3.2M140.41,254.65v-1.6M151.2,135.15v3.2M151.2,222.15v6.4M151.2,254.65v-3.2M161.99,135.15v1.6M161.99,223.75v3.2M161.99,254.65v-1.6M172.78,135.15v1.6M172.78,223.75v3.2M172.78,254.65v-1.6M183.57,135.15v1.6M183.57,223.75v3.2M183.57,254.65v-1.6M32.5,218.63h1.4M194.3,218.63h-1.4M32.5,212.21h1.4M194.3,212.21h-1.4M32.5,205.79h1.4M194.3,205.79h-1.4M32.5,199.37h1.4M194.3,199.37h-1.4M32.5,192.95h3.2M194.3,192.95h-3.2M32.5,186.53h1.4M194.3,186.53h-1.4M32.5,180.11h1.4M194.3,180.11h-1.4M32.5,173.69h1.4M194.3,173.69h-1.4M32.5,167.27h1.4M194.3,167.27h-1.4M32.5,160.85h3.2M194.3,160.85h-3.2M32.5,154.43h1.4M194.3,154.43h-1.4M32.5,148.01h1.4M194.3,148.01h-1.4M32.5,141.59h1.4M194.3,141.59h-1.4M32.5,227.2h1.4M194.3,227.2h-1.4M32.5,230.8h3.2M194.3,230.8h-3.2M32.5,234.4h1.4M194.3,234.4h-1.4M32.5,238h1.4M194.3,238h-1.4M32.5,241.6h3.2M194.3,241.6h-3.2M32.5,245.2h1.4M194.3,245.2h-1.4M32.5,248.8h1.4M194.3,248.8h-1.4" stroke="#3a3a3a" stroke-width="0.9" fill="none"/>
<path d="M32.5,135.15H194.3V254.65H32.5ZM32.5,225.35H194.3" stroke="#3a3a3a" stroke-width="1.0" fill="none"/>
<path d="M61.7,243.7H78.3" stroke="#4a4a4a" stroke-width="0.9"/>
<path d="M70,240V247" stroke="#4a4a4a" stroke-width="0.9"/>
<rect x="68.3" y="247" width="3.4" height="3.4" rx="0.5" fill="none" stroke="#d48a48" stroke-width="0.85"/>
<circle cx="70" cy="243.7" r="1.5" fill="#000"/>
<path d="M95.8,242.3H126.7" stroke="#4a4a4a" stroke-width="0.9"/>
<path d="M111.2,236.2V248.7" stroke="#4a4a4a" stroke-width="0.9"/>
<rect x="109.1" y="242" width="3.4" height="3.4" rx="0.5" fill="none" stroke="#d48a48" stroke-width="0.85"/>
<circle cx="111.2" cy="242.3" r="1.5" fill="#000"/>
<path d="M150,236.7H189.7" stroke="#e9b382" stroke-width="1.2"/>
<rect x="161.6" y="236.1" width="3.4" height="3.4" rx="0.5" fill="none" stroke="#d48a48" stroke-width="0.85"/>
<rect x="165.8" y="235" width="3.4" height="3.4" rx="0.5" fill="none" stroke="#d48a48" stroke-width="0.85"/>
<rect x="171.3" y="235" width="3.4" height="3.4" rx="0.5" fill="none" stroke="#d48a48" stroke-width="0.85"/>
<path d="M145.8,242.3H183.3" stroke="#4a4a4a" stroke-width="0.9"/>
<circle cx="164.2" cy="242.3" r="1.5" fill="#000"/>
<text x="188.8" y="144.85" font-size="9.82" text-anchor="end" fill="#000">2MASS J1847+5522AB</text>
<text x="188.1" y="152.25" font-size="6.3" text-anchor="end" fill="#2a8fdc" class="b">LHS 2924 (M9.0)</text>
<text x="188.1" y="158.25" font-size="6.3" text-anchor="end" fill="#dc2e38" class="r">2MASS J22120345+1641093 (M5.0)</text>
<text x="29.7" y="164.35" font-size="9.8" text-anchor="end">1.0</text>
<text x="29.7" y="196.45" font-size="9.8" text-anchor="end">0.5</text>
<text x="29.7" y="225.85" font-size="9.8" text-anchor="end">0.0</text>
<text x="29.7" y="234.7" font-size="9.8" text-anchor="end">0.6</text>
<text x="29.7" y="245.5" font-size="9.8" text-anchor="end">0.3</text>
<text x="29.7" y="255.5" font-size="9.8" text-anchor="end">0.0</text>
<text transform="translate(9.3,179.55) rotate(-90)" font-size="9.8" text-anchor="middle">Normalized flux</text>
<text transform="translate(9.3,238.75) rotate(-90)" font-size="9.8" text-anchor="middle">&#916;mag</text>
<clipPath id="c11"><rect x="234.55" y="135.15" width="161.8" height="90.2"/></clipPath>
<g clip-path="url(#c11)" fill="none" stroke-linejoin="round">
<path d="M234.68,222.99 236.73,221.62 239.47,220.26 241.52,219.57 243.57,217.52 245.62,213.42 247.67,212.05 250.4,210.69 253.13,209.32 255.18,207.95 257.92,206.59 260.65,204.54 262.7,202.48 264.34,201.12 266.12,203.17 267.48,205.22 268.85,204.54 270.22,203.85 271.58,205.22 272.95,203.85 274.32,203.17 275.68,201.12 277.73,198.38 280.47,197.02 283.2,193.6 285.25,194.28 287.3,195.65 288.67,197.02 290.03,206.59 290.72,214.79 292.08,214.11 293.45,212.74 294.82,213.42 296.87,214.11 298.92,214.11 300.97,211.37 303.7,208.64 306.43,205.22 309.17,202.48 311.9,199.75 313.95,197.7 316,197.02 314,197.5 316.07,196.81 318.15,196.12 320.23,197.09 322.3,197.5 325.07,198.89 327.83,200.96 330.6,203.73 333.37,207.19 335.44,210.64 337.52,212.72 339.59,212.03 340.98,214.1 342.36,215.49 343.74,213.41 345.82,212.72 347.2,211.34 348.58,213.41 350.66,214.79 353.43,214.1 355.5,212.72 358.27,211.34 361.03,209.95 363.8,208.98 366.57,208.29 369.33,208.29 372.1,208.57 374.87,209.26 377.63,209.95 380.4,210.64 383.17,211.61 385.93,212.72 388.7,213.83 391.47,214.38 394.23,214.79 397,215.21" stroke="#3a9ee6" stroke-width="0.85"/>
<path d="M234.68,223.68 236.73,222.99 239.47,222.31 242.2,220.94 244.93,218.89 247.67,216.16 250.4,213.42 253.13,210.69 255.87,208.64 258.6,206.59 261.33,203.85 263.38,201.8 264.34,201.12 266.12,203.85 267.48,207.27 269.53,208.64 271.58,207.95 272.95,209.32 275,205.22 277.73,199.75 280.47,197.02 283.2,192.91 285.25,194.28 287.98,195.65 289.35,198.38 290.03,207.95 290.72,217.52 292.08,218.89 294.13,218.89 296.87,219.57 299.6,220.26 302.33,216.16 305.07,214.11 307.8,211.37 310.53,207.95 313.27,203.85 316,201.12 314,201.65 316.07,200.96 318.15,203.04 320.23,204.42 322.3,205.8 325.07,207.19 327.83,209.26 330.6,212.03 333.37,214.79 335.44,216.87 337.52,218.25 339.59,216.87 340.98,217.56 342.36,220.33 343.74,218.25 345.82,216.87 347.89,216.18 349.27,218.25 351.35,219.64 354.12,218.94 356.88,217.84 359.65,216.59 362.42,215.76 365.18,215.21 367.95,215.07 370.72,215.21 373.48,215.76 376.25,216.87 379.02,217.84 381.78,218.94 384.55,219.91 387.32,220.74 390.08,221.3 392.85,221.71 397,221.85" stroke="#e2404a" stroke-width="0.85"/>
<path d="M234.68,220.26 235.64,216.16 236.73,221.62 237.83,213.42 238.78,220.26 239.74,209.32 240.83,216.16 242.2,214.79 243.57,213.42 244.93,210.69 246.3,210 247.67,206.59 249.03,203.85 250.4,199.75 251.77,199.75 253.13,195.65 254.5,192.91 255.87,193.6 257.23,190.86 258.6,187.45 259.97,184.71 261.33,181.98 262.7,179.24 264.07,177.19 265.16,176.51 266.12,179.93 267.48,186.08 268.85,188.13 270.22,188.81 271.58,183.34 272.95,186.08 273.63,188.81 275,179.24 276.37,175.14 277.73,171.72 279.1,168.99 280.47,167.62 281.83,165.57 283.2,161.47 284.57,162.15 285.93,163.52 287.3,165.57 288.39,166.94 289.35,183.34 290.03,199.75 291.4,209.32 292.77,206.59 294.13,203.85 295.5,206.59 296.87,207.95 298.23,209.32 299.6,208.64 300.97,205.22 302.33,200.43 303.7,198.38 305.07,196.33 306.43,193.6 307.8,190.18 309.17,186.08 310.53,181.98 311.9,177.88 313.27,175.14 314.63,173.09 316,172.41 314,173.29 316.07,171.91 318.15,176.06 320.23,178.13 322.3,176.06 324.38,178.13 326.45,179.52 327.83,181.59 329.22,185.74 330.6,190.58 331.98,195.43 333.37,200.27 334.75,203.73 336.82,205.8 338.9,205.11 340.28,207.19 341.67,209.26 343.05,210.64 344.43,207.19 345.82,205.11 347.2,203.73 348.58,205.11 349.97,208.57 352.04,207.88 354.12,207.19 356.19,205.8 358.27,203.73 360.34,200.96 362.42,198.89 364.49,197.78 366.57,197.23 368.64,197.5 370.72,198.19 372.79,199.58 374.87,201.38 376.94,203.04 379.02,204.14 381.09,205.11 383.17,206.49 385.24,208.29 387.32,209.95 389.39,210.64 391.47,210.92 393.54,211.34 395.62,211.61 397,212.03" stroke="#cf8f56" stroke-width="1.15"/>
<path d="M234.68,220.26 235.64,216.16 236.73,221.62 237.83,213.42 238.78,220.26 239.74,209.32 240.83,216.16 242.2,214.79 243.57,213.42 244.93,210.69 246.3,210 247.67,206.59 249.03,203.85 250.4,199.75 251.77,199.75 253.13,195.65 254.5,192.91 255.87,193.6 257.23,190.86 258.6,187.45 259.97,184.71 261.33,181.98 262.7,179.24 264.07,177.19 265.16,176.51 266.12,179.93 267.48,186.08 268.85,188.13 270.22,188.81 271.58,183.34 272.95,186.08 273.63,188.81 275,179.24 276.37,175.14 277.73,171.72 279.1,168.99 280.47,167.62 281.83,165.57 283.2,161.47 284.57,162.15 285.93,163.52 287.3,165.57 288.39,166.94 289.35,183.34 290.03,199.75 291.4,209.32 292.77,206.59 294.13,203.85 295.5,206.59 296.87,207.95 298.23,209.32 299.6,208.64 300.97,205.22 302.33,200.43 303.7,198.38 305.07,196.33 306.43,193.6 307.8,190.18 309.17,186.08 310.53,181.98 311.9,177.88 313.27,175.14 314.63,173.09 316,172.41 315,172.89 314,173.29 315.04,172.42 316.07,171.91 317.11,174.39 318.15,176.06 319.19,176.67 320.23,178.13 321.26,176.86 322.3,176.06 323.34,177.11 324.38,178.13 325.41,178.94 326.45,179.52 327.83,181.59 329.22,185.74 330.6,190.58 331.98,195.43 333.37,200.27 334.75,203.73 335.79,204.39 336.82,205.8 337.86,205.7 338.9,205.11 340.28,207.19 341.67,209.26 343.05,210.64 344.43,207.19 345.82,205.11 347.2,203.73 348.58,205.11 349.97,208.57 351,207.39 352.04,207.88 353.08,208.72 354.12,207.19 355.15,207.33 356.19,205.8 357.23,204.9 358.27,203.73 359.3,202.67 360.34,200.96 361.38,199.29 362.42,198.89 363.45,198.03 364.49,197.78 365.53,197.48 366.57,197.23 367.6,198.29 368.64,197.5 369.68,198.17 370.72,198.19 371.75,198.86 372.79,199.58 373.83,200.36 374.87,201.38 375.9,202.08 376.94,203.04 377.98,203.89 379.02,204.14 380.05,204.67 381.09,205.11 382.13,206.32 383.17,206.49 384.2,207.29 385.24,208.29 386.28,209.39 387.32,209.95 388.35,210.92 389.39,210.64 390.43,211.26 391.47,210.92 392.5,211.93 393.54,211.34 394.58,210.51 395.62,211.61 397,212.03" stroke="#141414" stroke-width="0.95"/>
</g>
<path d="M236.45,135.15v1.6M236.45,223.75v3.2M236.45,254.65v-1.6M246.45,135.15v1.6M246.45,223.75v3.2M246.45,254.65v-1.6M256.45,135.15v3.2M256.45,222.15v6.4M256.45,254.65v-3.2M266.45,135.15v1.6M266.45,223.75v3.2M266.45,254.65v-1.6M276.45,135.15v1.6M276.45,223.75v3.2M276.45,254.65v-1.6M286.45,135.15v1.6M286.45,223.75v3.2M286.45,254.65v-1.6M296.45,135.15v1.6M296.45,223.75v3.2M296.45,254.65v-1.6M306.45,135.15v3.2M306.45,222.15v6.4M306.45,254.65v-3.2M316.45,135.15v1.6M316.45,223.75v3.2M316.45,254.65v-1.6M326.45,135.15v1.6M326.45,223.75v3.2M326.45,254.65v-1.6M336.45,135.15v1.6M336.45,223.75v3.2M336.45,254.65v-1.6M346.45,135.15v1.6M346.45,223.75v3.2M346.45,254.65v-1.6M356.45,135.15v3.2M356.45,222.15v6.4M356.45,254.65v-3.2M366.45,135.15v1.6M366.45,223.75v3.2M366.45,254.65v-1.6M376.45,135.15v1.6M376.45,223.75v3.2M376.45,254.65v-1.6M386.45,135.15v1.6M386.45,223.75v3.2M386.45,254.65v-1.6M234.55,218.63h1.4M396.35,218.63h-1.4M234.55,212.21h1.4M396.35,212.21h-1.4M234.55,205.79h1.4M396.35,205.79h-1.4M234.55,199.37h1.4M396.35,199.37h-1.4M234.55,192.95h3.2M396.35,192.95h-3.2M234.55,186.53h1.4M396.35,186.53h-1.4M234.55,180.11h1.4M396.35,180.11h-1.4M234.55,173.69h1.4M396.35,173.69h-1.4M234.55,167.27h1.4M396.35,167.27h-1.4M234.55,160.85h3.2M396.35,160.85h-3.2M234.55,154.43h1.4M396.35,154.43h-1.4M234.55,148.01h1.4M396.35,148.01h-1.4M234.55,141.59h1.4M396.35,141.59h-1.4M234.55,229.2h1.4M396.35,229.2h-1.4M234.55,232.8h3.2M396.35,232.8h-3.2M234.55,236.4h1.4M396.35,236.4h-1.4M234.55,240h1.4M396.35,240h-1.4M234.55,243.7h1.4M396.35,243.7h-1.4M234.55,247.3h3.2M396.35,247.3h-3.2M234.55,250.9h1.4M396.35,250.9h-1.4" stroke="#3a3a3a" stroke-width="0.9" fill="none"/>
<path d="M234.55,135.15H396.35V254.65H234.55ZM234.55,225.35H396.35" stroke="#3a3a3a" stroke-width="1.0" fill="none"/>
<path d="M273.3,247.5H289.7" stroke="#4a4a4a" stroke-width="0.9"/>
<rect x="279.6" y="245" width="3.4" height="3.4" rx="0.5" fill="none" stroke="#d48a48" stroke-width="0.85"/>
<circle cx="281.3" cy="247.5" r="1.5" fill="#000"/>
<path d="M305.8,242.8H334.2" stroke="#4a4a4a" stroke-width="0.9"/>
<rect x="317.8" y="240.3" width="3.4" height="3.4" rx="0.5" fill="none" stroke="#d48a48" stroke-width="0.85"/>
<circle cx="319.5" cy="242.8" r="1.5" fill="#000"/>
<path d="M355.8,237.8H386.3" stroke="#e9b382" stroke-width="1.2"/>
<rect x="369.1" y="236.1" width="3.4" height="3.4" rx="0.5" fill="none" stroke="#d48a48" stroke-width="0.85"/>
<rect x="371.6" y="236.1" width="3.4" height="3.4" rx="0.5" fill="none" stroke="#d48a48" stroke-width="0.85"/>
<path d="M359.7,235H392.5" stroke="#4a4a4a" stroke-width="0.9"/>
<circle cx="376.3" cy="235" r="1.5" fill="#000"/>
<text x="390.85" y="144.85" font-size="9.82" text-anchor="end" fill="#000">SDSS J2052-1609AB</text>
<text x="390.15" y="152.25" font-size="6.3" text-anchor="end" fill="#2a8fdc" class="b">SDSS J204749.61-071818.3 (L7.5)</text>
<text x="390.15" y="158.25" font-size="6.3" text-anchor="end" fill="#dc2e38" class="r">SDSS J090900.73+652527.2 (T1.5)</text>
<text x="231.75" y="164.35" font-size="9.8" text-anchor="end">1.0</text>
<text x="231.75" y="196.45" font-size="9.8" text-anchor="end">0.5</text>
<text x="231.75" y="225.85" font-size="9.8" text-anchor="end">0.0</text>
<text x="231.75" y="236.3" font-size="9.8" text-anchor="end">1</text>
<text x="231.75" y="251.3" font-size="9.8" text-anchor="end">0</text>
<text transform="translate(211.35,179.55) rotate(-90)" font-size="9.8" text-anchor="middle">Normalized flux</text>
<text transform="translate(211.35,238.75) rotate(-90)" font-size="9.8" text-anchor="middle">&#916;mag</text>
<clipPath id="c12"><rect x="436.6" y="135.15" width="161.8" height="90.2"/></clipPath>
<g clip-path="url(#c12)" fill="none" stroke-linejoin="round">
<path d="M436.68,223.68 438.73,221.62 441.47,220.26 444.2,218.89 446.93,217.52 449.67,216.16 452.4,214.79 455.13,213.42 457.87,212.05 460.6,210 463.33,207.95 465.38,206.59 466.75,205.22 468.12,206.59 469.48,208.64 471.53,207.95 473.58,207.27 475.63,207.27 477.68,204.54 479.73,201.8 482.47,199.75 485.2,197.02 487.25,196.33 489.3,196.33 490.67,197.02 491.76,203.85 492.72,210.69 494.08,212.05 495.45,210.69 496.82,209.32 498.87,210.69 500.92,212.74 502.97,211.37 505.02,209.32 507.07,206.59 509.8,203.85 512.53,201.12 515.27,197.02 518,194.28 516,193.35 518.08,192.66 520.15,191.97 522.23,191.69 524.3,191.42 526.38,191.55 528.45,192.66 530.52,195.43 532.6,198.89 534.67,201.65 536.75,204.42 538.83,205.8 540.9,205.11 542.98,207.19 545.05,208.57 547.12,205.8 549.2,203.73 551.27,206.49 553.35,207.88 555.42,208.57 557.5,207.46 560.27,205.8 563.03,203.73 565.8,201.65 568.57,199.99 571.33,198.89 574.1,198.61 576.87,199.3 579.63,200.27 582.4,201.38 585.17,202.34 587.24,203.04 588.62,207.19 590.7,207.46 593.47,207.88 596.23,207.88 599,207.88" stroke="#3a9ee6" stroke-width="0.85"/>
<path d="M436.68,223.68 438.73,221.62 441.47,220.26 444.2,218.89 446.93,216.84 449.67,215.47 452.4,214.11 455.13,212.74 457.87,210.69 460.6,208.64 463.33,205.9 465.38,203.85 466.75,203.17 468.12,205.22 470.17,207.27 472.22,207.27 474.27,206.59 476.32,205.9 478.37,203.17 480.42,200.43 483.15,197.7 485.88,196.33 488.62,195.92 490.67,197.02 491.76,202.48 492.72,212.05 494.08,213.42 495.45,212.05 496.82,210 498.87,211.37 500.92,213.42 502.97,212.05 505.02,210 507.07,207.95 509.8,205.22 512.53,202.48 515.27,199.75 518,197.02 516,196.81 518.08,196.12 520.15,195.7 522.23,195.43 524.3,195.7 526.38,196.12 528.45,197.5 530.52,200.27 532.6,203.04 534.67,205.8 536.75,207.88 538.83,209.26 540.9,209.95 542.98,210.64 545.05,212.72 547.12,209.95 549.2,207.88 550.58,207.19 551.97,210.64 554.04,211.34 556.12,211.34 558.88,210.64 561.65,208.57 564.42,206.49 567.18,205.11 569.95,204.42 572.72,204.42 575.48,205.11 578.25,205.8 581.02,206.91 583.78,207.88 586.55,209.26 588.62,212.03 591.39,212.3 594.16,212.44 599,212.72" stroke="#e2404a" stroke-width="0.85"/>
<path d="M436.68,221.62 438.05,216.16 439.01,210.69 440.1,217.52 441.19,210.69 442.15,216.16 443.52,209.32 444.88,213.42 446.25,207.95 447.62,212.05 448.98,212.05 450.35,207.95 451.72,203.85 453.08,201.12 454.45,199.75 455.82,198.38 457.18,197.02 458.55,195.65 459.92,194.28 461.28,191.55 462.65,190.18 464.02,187.45 465.38,184.71 466.75,184.03 468.12,186.76 469.48,188.81 470.85,189.5 472.22,188.81 473.58,185.39 474.95,186.76 476.32,185.39 477.68,180.61 479.05,177.88 480.42,175.14 481.78,173.77 483.15,171.72 484.52,170.36 485.88,167.62 487.25,166.94 488.62,166.94 489.98,167.62 490.94,173.77 491.76,183.34 492.58,194.28 493.4,199.75 494.49,201.12 496.13,195.65 497.5,193.6 498.87,198.38 500.23,200.43 501.6,199.75 502.97,195.65 504.33,191.55 505.7,189.5 507.07,187.45 508.43,184.71 509.8,180.61 511.17,177.19 512.53,173.77 513.9,171.72 515.27,169.67 516.63,166.94 518,165.57 516,168.45 517.38,165.68 519.46,163.61 521.53,162.23 523.61,160.84 525.68,162.23 527.76,162.92 529.83,167.07 531.91,172.6 533.98,178.83 536.06,185.05 537.44,189.2 539.52,191.28 541.59,192.66 543.67,194.74 545.74,196.81 547.12,193.35 548.51,189.2 549.89,185.74 551.27,189.89 552.66,193.35 554.04,194.74 556.12,193.35 558.19,191.28 560.27,189.2 562.34,185.05 564.42,182.28 566.49,180.21 568.57,178.83 570.64,178.13 572.72,178.13 574.79,178.83 576.87,180.21 578.94,181.59 581.02,182.98 583.09,183.67 585.17,185.05 587.24,186.43 588.62,192.66 590.7,192.66 592.77,193.35 594.85,194.04 596.92,194.74 599,194.74" stroke="#cf8f56" stroke-width="1.15"/>
<path d="M436.68,221.62 438.05,216.16 439.01,210.69 440.1,217.52 441.19,210.69 442.15,216.16 443.52,209.32 444.88,213.42 446.25,207.95 447.62,212.05 448.98,212.05 450.35,207.95 451.72,203.85 453.08,201.12 454.45,199.75 455.82,198.38 457.18,197.02 458.55,195.65 459.92,194.28 461.28,191.55 462.65,190.18 464.02,187.45 465.38,184.71 466.75,184.03 468.12,186.76 469.48,188.81 470.85,189.5 472.22,188.81 473.58,185.39 474.95,186.76 476.32,185.39 477.68,180.61 479.05,177.88 480.42,175.14 481.78,173.77 483.15,171.72 484.52,170.36 485.88,167.62 487.25,166.94 488.62,166.94 489.98,167.62 490.94,173.77 491.76,183.34 492.58,194.28 493.4,199.75 494.49,201.12 496.13,195.65 497.5,193.6 498.87,198.38 500.23,200.43 501.6,199.75 502.97,195.65 504.33,191.55 505.7,189.5 507.07,187.45 508.43,184.71 509.8,180.61 511.17,177.19 512.53,173.77 513.9,171.72 515.27,169.67 516.63,166.94 518,165.57 517,166.66 516,168.45 517.38,165.68 518.42,165.06 519.46,163.61 520.5,162.28 521.53,162.23 522.57,162.06 523.61,160.84 524.65,162.03 525.68,162.23 526.72,162.64 527.76,162.92 528.8,164.76 529.83,167.07 530.87,169.94 531.91,172.6 532.95,174.96 533.98,178.83 535.02,181.68 536.06,185.05 537.44,189.2 538.48,190.41 539.52,191.28 540.55,192 541.59,192.66 542.63,193.62 543.67,194.74 544.7,195.58 545.74,196.81 547.12,193.35 548.51,189.2 549.89,185.74 551.27,189.89 552.66,193.35 554.04,194.74 555.08,193.53 556.12,193.35 557.15,192.28 558.19,191.28 559.23,189.91 560.27,189.2 561.3,186.38 562.34,185.05 563.38,184.21 564.42,182.28 565.45,181.41 566.49,180.21 567.53,179.52 568.57,178.83 569.6,178.6 570.64,178.13 571.68,178.03 572.72,178.13 573.75,178.32 574.79,178.83 575.83,179.44 576.87,180.21 577.9,181.21 578.94,181.59 579.98,182.84 581.02,182.98 582.05,182.84 583.09,183.67 584.13,184.21 585.17,185.05 586.2,186.19 587.24,186.43 588.62,192.66 589.66,192.38 590.7,192.66 591.74,194.22 592.77,193.35 593.81,193.03 594.85,194.04 595.89,194.51 596.92,194.74 597.96,194.94 599,194.74" stroke="#141414" stroke-width="0.95"/>
</g>
<path d="M438.5,135.15v1.6M438.5,223.75v3.2M438.5,254.65v-1.6M448.5,135.15v1.6M448.5,223.75v3.2M448.5,254.65v-1.6M458.5,135.15v3.2M458.5,222.15v6.4M458.5,254.65v-3.2M468.5,135.15v1.6M468.5,223.75v3.2M468.5,254.65v-1.6M478.5,135.15v1.6M478.5,223.75v3.2M478.5,254.65v-1.6M488.5,135.15v1.6M488.5,223.75v3.2M488.5,254.65v-1.6M498.5,135.15v1.6M498.5,223.75v3.2M498.5,254.65v-1.6M508.5,135.15v3.2M508.5,222.15v6.4M508.5,254.65v-3.2M518.5,135.15v1.6M518.5,223.75v3.2M518.5,254.65v-1.6M528.5,135.15v1.6M528.5,223.75v3.2M528.5,254.65v-1.6M538.5,135.15v1.6M538.5,223.75v3.2M538.5,254.65v-1.6M548.5,135.15v1.6M548.5,223.75v3.2M548.5,254.65v-1.6M558.5,135.15v3.2M558.5,222.15v6.4M558.5,254.65v-3.2M568.5,135.15v1.6M568.5,223.75v3.2M568.5,254.65v-1.6M578.5,135.15v1.6M578.5,223.75v3.2M578.5,254.65v-1.6M588.5,135.15v1.6M588.5,223.75v3.2M588.5,254.65v-1.6M436.6,218.63h1.4M598.4,218.63h-1.4M436.6,212.21h1.4M598.4,212.21h-1.4M436.6,205.79h1.4M598.4,205.79h-1.4M436.6,199.37h1.4M598.4,199.37h-1.4M436.6,192.95h3.2M598.4,192.95h-3.2M436.6,186.53h1.4M598.4,186.53h-1.4M436.6,180.11h1.4M598.4,180.11h-1.4M436.6,173.69h1.4M598.4,173.69h-1.4M436.6,167.27h1.4M598.4,167.27h-1.4M436.6,160.85h3.2M598.4,160.85h-3.2M436.6,154.43h1.4M598.4,154.43h-1.4M436.6,148.01h1.4M598.4,148.01h-1.4M436.6,141.59h1.4M598.4,141.59h-1.4M436.6,229.2h1.4M598.4,229.2h-1.4M436.6,232.8h3.2M598.4,232.8h-3.2M436.6,236.4h1.4M598.4,236.4h-1.4M436.6,240h1.4M598.4,240h-1.4M436.6,243.7h1.4M598.4,243.7h-1.4M436.6,247.3h3.2M598.4,247.3h-3.2M436.6,250.9h1.4M598.4,250.9h-1.4" stroke="#3a3a3a" stroke-width="0.9" fill="none"/>
<path d="M436.6,135.15H598.4V254.65H436.6ZM436.6,225.35H598.4" stroke="#3a3a3a" stroke-width="1.0" fill="none"/>
<path d="M476.2,249.5H491.7" stroke="#e9b382" stroke-width="1.2"/>
<circle cx="483.7" cy="249.5" r="1.75" fill="none" stroke="#d48a48" stroke-width="0.85"/>
<path d="M507.5,241.2H536.3" stroke="#e9b382" stroke-width="1.2"/>
<circle cx="521.3" cy="241.2" r="1.75" fill="none" stroke="#d48a48" stroke-width="0.85"/>
<path d="M557.5,234H594.2" stroke="#e9b382" stroke-width="1.2"/>
<path d="M553.3,233.3H593.3" stroke="#4a4a4a" stroke-width="0.9"/>
<path d="M561,233.8H588" stroke="#8a5a30" stroke-width="0.9"/>
<rect x="568.3" y="232.3" width="3.4" height="3.4" rx="0.5" fill="none" stroke="#d48a48" stroke-width="0.85"/>
<rect x="573.3" y="232.3" width="3.4" height="3.4" rx="0.5" fill="none" stroke="#d48a48" stroke-width="0.85"/>
<rect x="576.6" y="232.3" width="3.4" height="3.4" rx="0.5" fill="none" stroke="#d48a48" stroke-width="0.85"/>
<circle cx="570.8" cy="232.8" r="1.5" fill="#000"/>
<text x="592.9" y="144.85" font-size="9.82" text-anchor="end" fill="#000">2MASS J2101+1756AB</text>
<text x="592.2" y="152.25" font-size="6.3" text-anchor="end" fill="#2a8fdc" class="b">SDSSp J085758.45+570851.4 (L8.5)</text>
<text x="592.2" y="158.25" font-size="6.3" text-anchor="end" fill="#dc2e38" class="r">SDSS J163030.53+434404.0 (L7.5)</text>
<text x="433.8" y="164.35" font-size="9.8" text-anchor="end">1.0</text>
<text x="433.8" y="196.45" font-size="9.8" text-anchor="end">0.5</text>
<text x="433.8" y="225.85" font-size="9.8" text-anchor="end">0.0</text>
<text x="433.8" y="236.8" font-size="9.8" text-anchor="end">0.3</text>
<text x="433.8" y="251.3" font-size="9.8" text-anchor="end">0.0</text>
<text transform="translate(413.4,179.55) rotate(-90)" font-size="9.8" text-anchor="middle">Normalized flux</text>
<text transform="translate(413.4,238.75) rotate(-90)" font-size="9.8" text-anchor="middle">&#916;mag</text>
<clipPath id="c20"><rect x="32.5" y="268.8" width="161.8" height="90.2"/></clipPath>
<g clip-path="url(#c20)" fill="none" stroke-linejoin="round">
<path d="M32.68,356.99 34.05,354.94 36.1,353.57 38.15,352.21 40.2,353.57 42.25,350.16 44.3,346.74 46.35,343.32 48.4,341.27 50.45,337.85 52.5,335.12 53.87,341.95 55.23,337.85 57.28,335.12 59.33,331.7 61.38,328.96 63.43,326.91 65.48,326.23 66.85,324.86 68.22,326.91 69.58,322.81 70.95,326.23 72.32,324.86 73.68,322.13 75.05,324.18 76.42,321.45 77.78,318.71 79.15,320.76 80.52,315.98 81.88,313.24 83.93,313.24 85.98,313.24 86.94,317.34 88.03,324.18 88.72,328.28 90.08,329.65 91.45,331.7 92.82,329.65 94.18,331.02 96.23,333.07 98.28,335.12 100.33,333.07 103.07,331.02 105.8,328.28 108.53,324.86 110.58,322.13 112.63,320.08 114,320.76 112,319.74 114.08,320.16 116.15,319.05 118.22,317.67 120.3,316.98 122.38,316.7 124.45,317.67 125.83,320.43 127.22,323.2 128.6,326.66 130.68,330.12 132.75,332.19 134.82,333.58 136.9,333.99 138.97,334.55 140.36,336.34 141.05,338.42 142.43,334.27 143.82,333.58 145.2,332.89 146.58,334.27 148.66,336.34 150.73,337.73 152.81,338.42 154.88,337.73 157.65,336.34 160.42,334.27 163.18,332.61 165.95,331.5 168.72,330.81 171.48,330.53 174.25,330.81 177.02,331.5 179.78,331.92 182.55,332.89 183.93,335.65 186.01,337.73 188.77,339.11 191.54,340.08 195,340.91" stroke="#3a9ee6" stroke-width="0.85"/>
<path d="M32.68,357.68 34.73,356.99 37.47,356.72 40.2,356.31 42.93,354.26 45.67,352.89 48.4,351.52 51.13,350.84 53.87,350.16 56.6,348.79 59.33,347.15 61.38,346.05 63.43,347.42 65.48,348.79 67.53,349.47 69.58,348.11 71.63,347.42 73.68,346.05 75.73,344.69 78.47,342.64 81.2,341.27 83.93,340.59 85.98,341.27 87.35,344.69 88.31,350.16 89.4,352.89 91.45,352.21 93.5,351.52 95.55,352.21 97.6,353.57 100.33,351.52 103.07,349.47 105.8,347.42 108.53,344.69 111.27,342.64 114,341.27 112,342.57 114.08,341.88 116.15,341.19 118.22,340.77 120.3,340.49 122.38,340.77 124.45,341.88 126.53,343.95 128.6,346.03 130.68,348.1 132.75,349.49 134.82,349.9 136.9,350.18 138.97,350.87 140.36,352.25 141.74,350.18 143.82,349.49 145.89,349.21 147.97,350.18 150.04,350.87 152.12,350.87 154.88,349.76 157.65,348.38 160.42,347.41 163.18,346.72 165.95,346.3 168.72,346.44 171.48,347 174.25,347.83 177.02,348.38 179.78,348.79 182.55,349.49 184.62,350.87 187.39,351.56 190.16,351.84 195,351.98" stroke="#e2404a" stroke-width="0.85"/>
<path d="M32.68,355.62 34.05,351.52 35.42,350.16 36.78,350.84 38.15,347.42 39.52,346.05 40.88,350.16 42.25,347.42 44.3,343.32 46.35,337.85 48.4,335.12 50.45,331.02 51.82,327.6 53.18,329.65 54.55,332.38 55.92,329.65 57.97,325.55 60.02,321.45 62.07,315.29 64.12,313.93 65.48,315.98 66.85,314.61 68.22,316.66 69.58,309.14 70.95,313.93 72.32,311.88 73.68,309.14 75.05,306.41 76.42,304.36 77.78,302.99 79.15,306.41 80.52,299.57 81.88,296.15 83.25,295.47 84.62,296.15 85.98,295.47 86.94,298.2 87.76,310.51 88.31,320.08 89.4,326.23 90.49,324.18 91.45,321.45 92.13,315.98 92.82,322.81 94.18,324.18 95.55,324.86 96.92,327.6 98.28,326.23 100.33,323.5 102.38,320.76 104.43,317.34 106.48,311.88 108.53,307.77 110.58,303.67 112.63,302.3 114,302.99 112,303.83 114.08,303.14 116.15,301.76 118.22,300.38 120.3,299.68 122.38,298.99 124.45,300.38 125.83,303.83 127.22,307.98 128.6,312.83 129.98,317.67 131.37,321.13 132.75,323.2 134.13,323.89 135.52,322.51 137.59,324.58 139.67,327.35 141.74,325.28 143.82,323.2 145.89,320.43 147.28,323.2 148.66,327.35 150.73,328.04 152.81,328.74 154.88,326.66 156.96,324.58 159.03,322.51 161.11,320.43 163.18,318.77 165.26,317.67 167.33,316.98 169.41,317.39 171.48,318.08 173.56,318.77 175.63,319.74 177.71,320.71 179.78,321.54 181.86,322.51 183.24,323.89 184.62,330.12 186.7,330.81 188.77,331.5 190.85,332.19 192.93,332.61 195,332.89" stroke="#cf8f56" stroke-width="1.15"/>
<path d="M32.68,355.62 34.05,351.52 35.42,350.16 36.78,350.84 38.15,347.42 39.52,346.05 40.88,350.16 42.25,347.42 43.27,345.8 44.3,343.32 45.33,340.79 46.35,337.85 47.38,336.5 48.4,335.12 49.42,333.56 50.45,331.02 51.82,327.6 53.18,329.65 54.55,332.38 55.92,329.65 56.94,327.56 57.97,325.55 58.99,324.39 60.02,321.45 61.04,317.68 62.07,315.29 63.09,314.33 64.12,313.93 65.48,315.98 66.85,314.61 68.22,316.66 69.58,309.14 70.95,313.93 72.32,311.88 73.68,309.14 75.05,306.41 76.42,304.36 77.78,302.99 79.15,306.41 80.52,299.57 81.88,296.15 83.25,295.47 84.62,296.15 85.98,295.47 86.94,298.2 87.76,310.51 88.31,320.08 89.4,326.23 90.49,324.18 91.45,321.45 92.13,315.98 92.82,322.81 94.18,324.18 95.55,324.86 96.92,327.6 98.28,326.23 99.31,325.33 100.33,323.5 101.36,321.89 102.38,320.76 103.41,318.82 104.43,317.34 105.46,314.66 106.48,311.88 107.51,309.86 108.53,307.77 109.56,305.56 110.58,303.67 111.61,302.81 112.63,302.3 114,302.99 113,303.62 112,303.83 113.04,303.42 114.08,303.14 115.11,301.96 116.15,301.76 117.19,300.52 118.22,300.38 119.26,300.01 120.3,299.68 121.34,300.03 122.38,298.99 123.41,298.63 124.45,300.38 125.83,303.83 127.22,307.98 128.6,312.83 129.98,317.67 131.37,321.13 132.75,323.2 134.13,323.89 135.52,322.51 136.62,319.05 137.59,302.45 138.28,317.67 138.97,331.5 139.67,314.9 140.36,330.12 141.05,321.82 141.74,325.97 142.43,331.5 143.54,327.35 144.51,321.13 145.89,320.43 147.28,323.2 148.66,327.35 149.7,327.06 150.73,328.04 151.77,329.06 152.81,328.74 153.85,327.52 154.88,326.66 155.92,324.95 156.96,324.58 158,323.85 159.03,322.51 160.07,321.43 161.11,320.43 162.15,319.39 163.18,318.77 164.22,318.69 165.26,317.67 166.3,317.19 167.33,316.98 168.37,317.53 169.41,317.39 170.45,318.05 171.48,318.08 172.52,319.39 173.56,318.77 174.6,320.16 175.63,319.74 176.67,320.06 177.71,320.71 178.75,321.25 179.78,321.54 180.82,321.58 181.86,322.51 183.24,323.89 184.62,330.12 185.66,330.29 186.7,330.81 187.74,331.58 188.77,331.5 189.81,332.07 190.85,332.19 191.89,332.43 192.93,332.61 193.96,332.29 195,332.89" stroke="#141414" stroke-width="0.95"/>
</g>
<path d="M34.4,268.8v1.6M34.4,357.4v3.2M34.4,388.3v-1.6M44.4,268.8v1.6M44.4,357.4v3.2M44.4,388.3v-1.6M54.4,268.8v3.2M54.4,355.8v6.4M54.4,388.3v-3.2M64.4,268.8v1.6M64.4,357.4v3.2M64.4,388.3v-1.6M74.4,268.8v1.6M74.4,357.4v3.2M74.4,388.3v-1.6M84.4,268.8v1.6M84.4,357.4v3.2M84.4,388.3v-1.6M94.4,268.8v1.6M94.4,357.4v3.2M94.4,388.3v-1.6M104.4,268.8v3.2M104.4,355.8v6.4M104.4,388.3v-3.2M114.4,268.8v1.6M114.4,357.4v3.2M114.4,388.3v-1.6M124.4,268.8v1.6M124.4,357.4v3.2M124.4,388.3v-1.6M134.4,268.8v1.6M134.4,357.4v3.2M134.4,388.3v-1.6M144.4,268.8v1.6M144.4,357.4v3.2M144.4,388.3v-1.6M154.4,268.8v3.2M154.4,355.8v6.4M154.4,388.3v-3.2M164.4,268.8v1.6M164.4,357.4v3.2M164.4,388.3v-1.6M174.4,268.8v1.6M174.4,357.4v3.2M174.4,388.3v-1.6M184.4,268.8v1.6M184.4,357.4v3.2M184.4,388.3v-1.6M32.5,352.28h1.4M194.3,352.28h-1.4M32.5,345.86h1.4M194.3,345.86h-1.4M32.5,339.44h1.4M194.3,339.44h-1.4M32.5,333.02h1.4M194.3,333.02h-1.4M32.5,326.6h3.2M194.3,326.6h-3.2M32.5,320.18h1.4M194.3,320.18h-1.4M32.5,313.76h1.4M194.3,313.76h-1.4M32.5,307.34h1.4M194.3,307.34h-1.4M32.5,300.92h1.4M194.3,300.92h-1.4M32.5,294.5h3.2M194.3,294.5h-3.2M32.5,288.08h1.4M194.3,288.08h-1.4M32.5,281.66h1.4M194.3,281.66h-1.4M32.5,275.24h1.4M194.3,275.24h-1.4M32.5,362.7h1.4M194.3,362.7h-1.4M32.5,366.5h1.4M194.3,366.5h-1.4M32.5,370.2h3.2M194.3,370.2h-3.2M32.5,374h1.4M194.3,374h-1.4M32.5,377.7h1.4M194.3,377.7h-1.4M32.5,381.5h1.4M194.3,381.5h-1.4M32.5,385.2h3.2M194.3,385.2h-3.2" stroke="#3a3a3a" stroke-width="0.9" fill="none"/>
<path d="M32.5,268.8H194.3V388.3H32.5ZM32.5,359H194.3" stroke="#3a3a3a" stroke-width="1.0" fill="none"/>
<path d="M71.7,381.3H87.5" stroke="#4a4a4a" stroke-width="0.9"/>
<path d="M79.2,377.7V384.7" stroke="#4a4a4a" stroke-width="0.9"/>
<rect x="77.5" y="369.8" width="3.4" height="3.4" rx="0.5" fill="none" stroke="#d48a48" stroke-width="0.85"/>
<circle cx="79.2" cy="381.3" r="1.5" fill="#000"/>
<path d="M103.3,376.8H132" stroke="#4a4a4a" stroke-width="0.9"/>
<path d="M117.2,373.5V380.7" stroke="#4a4a4a" stroke-width="0.9"/>
<rect x="115.5" y="373.1" width="3.4" height="3.4" rx="0.5" fill="none" stroke="#d48a48" stroke-width="0.85"/>
<circle cx="117.2" cy="376.8" r="1.5" fill="#000"/>
<path d="M153.3,383.2H184.2" stroke="#4a4a4a" stroke-width="0.9"/>
<path d="M169.2,381.3V385.2" stroke="#4a4a4a" stroke-width="0.9"/>
<rect x="167.5" y="375.1" width="3.4" height="3.4" rx="0.5" fill="none" stroke="#d48a48" stroke-width="0.85"/>
<circle cx="169.2" cy="383.2" r="1.5" fill="#000"/>
<path d="M157.5,380.5H190" stroke="#4a4a4a" stroke-width="0.9"/>
<path d="M174.7,378.5V384.7" stroke="#4a4a4a" stroke-width="0.9"/>
<rect x="173" y="374" width="3.4" height="3.4" rx="0.5" fill="none" stroke="#d48a48" stroke-width="0.85"/>
<circle cx="174.7" cy="380.5" r="1.5" fill="#000"/>
<text x="188.8" y="278.5" font-size="9.82" text-anchor="end" fill="#000">2MASS J2132+1341AB</text>
<text x="188.1" y="285.9" font-size="6.3" text-anchor="end" fill="#2a8fdc" class="b">2MASS J11000965+4957470 (L3.5)</text>
<text x="188.1" y="291.9" font-size="6.3" text-anchor="end" fill="#dc2e38" class="r">SDSS J100711.74+193056.2 (L9.5)</text>
<text x="29.7" y="298" font-size="9.8" text-anchor="end">1.0</text>
<text x="29.7" y="330.1" font-size="9.8" text-anchor="end">0.5</text>
<text x="29.7" y="359.5" font-size="9.8" text-anchor="end">0.0</text>
<text x="29.7" y="374.2" font-size="9.8" text-anchor="end">1.0</text>
<text x="29.7" y="389.2" font-size="9.8" text-anchor="end">0.8</text>
<text transform="translate(9.3,313.2) rotate(-90)" font-size="9.8" text-anchor="middle">Normalized flux</text>
<text transform="translate(9.3,372.4) rotate(-90)" font-size="9.8" text-anchor="middle">&#916;mag</text>
<clipPath id="c21"><rect x="234.55" y="268.8" width="161.8" height="90.2"/></clipPath>
<g clip-path="url(#c21)" fill="none" stroke-linejoin="round">
<path d="M234.68,326.91 236.05,322.81 237.42,320.08 238.78,319.39 240.15,318.71 241.52,318.03 242.88,318.71 243.84,321.45 244.66,326.91 246.3,322.81 247.67,320.76 249.03,319.39 251.08,317.34 253.13,313.93 254.5,311.19 256.55,311.88 257.92,313.24 259.28,315.98 260.65,313.24 262.02,311.88 263.38,315.29 264.75,314.61 266.12,315.98 268.17,315.29 269.53,313.24 270.9,316.66 272.95,314.61 275,313.24 277.05,313.24 279.1,313.93 280.47,315.29 281.56,321.45 282.52,324.86 283.88,326.91 285.93,328.96 288.67,331.02 291.4,331.7 294.13,332.38 296.87,333.07 299.6,331.7 302.33,330.33 305.07,329.65 307.8,329.65 310.53,328.96 313.27,328.28 316,327.6 314,328.04 316.07,328.74 318.15,329.43 320.23,330.12 322.3,332.19 325.07,334.96 327.83,337.73 330.6,339.8 333.37,341.19 336.13,342.57 338.9,343.54 340.98,342.85 343.05,343.26 345.12,343.26 347.2,344.37 349.97,345.06 352.73,345.34 355.5,345.06 358.27,344.78 361.03,344.37 363.8,343.95 366.57,343.68 369.33,343.26 372.1,343.54 374.87,343.95 377.63,344.23 380.4,344.64 383.17,345.06 385.24,346.03 387.32,346.72 390.08,347.41 392.85,348.1 397,348.79" stroke="#3a9ee6" stroke-width="0.85"/>
<path d="M234.68,351.52 236.05,350.16 237.42,348.79 239.47,347.42 241.52,346.74 243.57,347.42 244.93,349.47 246.98,348.11 249.03,346.74 251.77,345.37 254.5,343.32 256.55,342.64 258.6,343.32 260.65,344 262.7,343.32 264.75,344 266.8,344.69 268.85,343.32 270.9,342.64 272.95,343.32 275,341.68 277.05,341.27 279.1,341.68 280.47,342.64 281.56,345.37 283.2,347.42 285.93,348.11 288.67,348.79 291.4,349.47 294.13,349.47 296.87,349.2 299.6,348.79 302.33,348.11 305.07,347.42 307.8,347.15 310.53,347.15 313.27,346.74 316,346.33 314,346.72 316.07,346.44 318.15,346.3 320.23,346.72 322.3,347.83 325.07,348.79 327.83,349.76 330.6,350.87 333.37,351.84 336.13,352.53 338.9,352.94 341.67,352.53 344.43,352.67 347.2,352.94 349.97,353.22 352.73,353.22 355.5,352.94 358.27,352.53 361.03,352.25 363.8,351.98 366.57,351.84 369.33,351.7 372.1,351.7 374.87,351.84 377.63,351.98 380.4,352.25 383.17,352.67 385.93,353.36 388.7,353.77 391.47,354.05 397,354.33" stroke="#e2404a" stroke-width="0.85"/>
<path d="M234.68,318.71 236.05,315.98 237.42,311.88 239.47,309.14 241.52,306.41 242.88,305.04 243.84,310.51 244.93,316.66 246.3,311.88 247.67,309.14 249.03,306.41 250.4,304.36 251.77,305.04 253.13,300.94 254.5,296.84 255.87,295.47 257.23,298.2 258.6,296.84 259.97,301.62 261.33,295.47 262.7,297.52 264.07,300.94 265.43,299.57 266.8,302.99 268.17,300.25 269.53,296.84 270.9,300.94 272.27,302.3 273.63,297.52 275,295.47 277.05,295.74 279.1,296.15 280.47,297.52 281.56,305.04 282.52,313.24 283.88,317.34 285.25,318.03 286.62,318.71 287.98,320.08 289.35,321.45 291.4,322.54 294.13,322.13 296.87,322.81 299.6,320.76 302.33,319.8 305.07,318.71 307.8,318.03 310.53,317.34 313.27,316.66 316,315.98 314,316.28 316.07,315.59 318.15,316.28 320.23,316.98 322.3,319.74 324.38,322.51 326.45,325.97 328.52,328.74 330.6,330.81 331.29,331.5 333.37,332.89 335.44,334.96 337.52,337.04 339.59,336.34 341.67,335.65 343.74,336.76 345.82,336.34 347.89,337.73 349.97,338.42 352.04,339.11 354.81,338.7 357.57,338.42 360.34,338 363.11,337.45 365.88,337.04 368.64,336.34 370.72,335.65 372.79,336.07 375.56,336.62 378.32,337.04 381.09,337.45 383.86,338.14 385.24,339.8 387.32,341.19 390.08,342.29 392.85,343.26 395.62,343.95 397,344.64" stroke="#cf8f56" stroke-width="1.15"/>
<path d="M234.68,318.71 236.05,315.98 237.42,311.88 238.44,310.05 239.47,309.14 240.49,307.92 241.52,306.41 242.88,305.04 243.84,310.51 244.93,316.66 246.3,311.88 247.67,309.14 249.03,306.41 250.4,304.36 251.77,305.04 253.13,300.94 254.5,296.84 255.87,295.47 257.23,298.2 258.6,296.84 259.97,301.62 261.33,295.47 262.7,297.52 264.07,300.94 265.43,299.57 266.8,302.99 268.17,300.25 269.53,296.84 270.9,300.94 272.27,302.3 273.63,297.52 275,295.47 276.02,296.35 277.05,295.74 278.08,296.15 279.1,296.15 280.47,297.52 281.56,305.04 282.52,313.24 283.88,317.34 285.25,318.03 286.62,318.71 287.98,320.08 289.35,321.45 290.38,321.68 291.4,322.54 292.77,321.74 294.13,322.13 295.5,321.81 296.87,322.81 298.23,321.9 299.6,320.76 300.97,320.79 302.33,319.8 303.7,318.79 305.07,318.71 306.43,317.83 307.8,318.03 309.17,318.48 310.53,317.34 311.9,316.93 313.27,316.66 314.63,316.49 316,315.98 315,316.13 314,316.28 315.04,316.47 316.07,315.59 317.11,316.21 318.15,316.28 319.19,316.31 320.23,316.98 321.26,318.17 322.3,319.74 323.34,320.82 324.38,322.51 325.41,325.45 326.45,325.97 327.49,327.56 328.52,328.74 329.56,329.32 330.6,330.81 331.29,331.5" stroke="#141414" stroke-width="0.95"/>
</g>
<path d="M245.35,268.8v3.2M245.35,355.8v6.4M245.35,388.3v-3.2M256.14,268.8v1.6M256.14,357.4v3.2M256.14,388.3v-1.6M266.93,268.8v1.6M266.93,357.4v3.2M266.93,388.3v-1.6M277.72,268.8v1.6M277.72,357.4v3.2M277.72,388.3v-1.6M288.51,268.8v1.6M288.51,357.4v3.2M288.51,388.3v-1.6M299.3,268.8v3.2M299.3,355.8v6.4M299.3,388.3v-3.2M310.09,268.8v1.6M310.09,357.4v3.2M310.09,388.3v-1.6M320.88,268.8v1.6M320.88,357.4v3.2M320.88,388.3v-1.6M331.67,268.8v1.6M331.67,357.4v3.2M331.67,388.3v-1.6M342.46,268.8v1.6M342.46,357.4v3.2M342.46,388.3v-1.6M353.25,268.8v3.2M353.25,355.8v6.4M353.25,388.3v-3.2M364.04,268.8v1.6M364.04,357.4v3.2M364.04,388.3v-1.6M374.83,268.8v1.6M374.83,357.4v3.2M374.83,388.3v-1.6M385.62,268.8v1.6M385.62,357.4v3.2M385.62,388.3v-1.6M234.55,352.28h1.4M396.35,352.28h-1.4M234.55,345.86h1.4M396.35,345.86h-1.4M234.55,339.44h1.4M396.35,339.44h-1.4M234.55,333.02h1.4M396.35,333.02h-1.4M234.55,326.6h3.2M396.35,326.6h-3.2M234.55,320.18h1.4M396.35,320.18h-1.4M234.55,313.76h1.4M396.35,313.76h-1.4M234.55,307.34h1.4M396.35,307.34h-1.4M234.55,300.92h1.4M396.35,300.92h-1.4M234.55,294.5h3.2M396.35,294.5h-3.2M234.55,288.08h1.4M396.35,288.08h-1.4M234.55,281.66h1.4M396.35,281.66h-1.4M234.55,275.24h1.4M396.35,275.24h-1.4M234.55,359.5h1.4M396.35,359.5h-1.4M234.55,363h3.2M396.35,363h-3.2M234.55,366.6h1.4M396.35,366.6h-1.4M234.55,370.1h1.4M396.35,370.1h-1.4M234.55,373.6h1.4M396.35,373.6h-1.4M234.55,377.2h3.2M396.35,377.2h-3.2M234.55,380.7h1.4M396.35,380.7h-1.4M234.55,384.2h1.4M396.35,384.2h-1.4" stroke="#3a3a3a" stroke-width="0.9" fill="none"/>
<path d="M234.55,268.8H396.35V388.3H234.55ZM234.55,359H396.35" stroke="#3a3a3a" stroke-width="1.0" fill="none"/>
<path d="M264,375.2H280.7" stroke="#4a4a4a" stroke-width="0.9"/>
<path d="M272.3,371.8V383.5" stroke="#4a4a4a" stroke-width="0.9"/>
<path d="M272.3,366.8V370" stroke="#d9893a" stroke-width="0.9"/>
<rect x="270.6" y="366.8" width="3.4" height="3.4" rx="0.5" fill="none" stroke="#d48a48" stroke-width="0.85"/>
<circle cx="272.3" cy="375.2" r="1.5" fill="#000"/>
<path d="M298,377.2H329.7" stroke="#4a4a4a" stroke-width="0.9"/>
<path d="M313.3,368V386.3" stroke="#4a4a4a" stroke-width="0.9"/>
<circle cx="313.3" cy="373.2" r="1.75" fill="none" stroke="#d48a48" stroke-width="0.85"/>
<circle cx="313.3" cy="377.2" r="1.5" fill="#000"/>
<path d="M352.2,383.8H392.2" stroke="#e9b382" stroke-width="1.2"/>
<circle cx="366" cy="382.7" r="1.75" fill="none" stroke="#d48a48" stroke-width="0.85"/>
<rect x="368.8" y="382.1" width="3.4" height="3.4" rx="0.5" fill="none" stroke="#d48a48" stroke-width="0.85"/>
<rect x="373" y="382.1" width="3.4" height="3.4" rx="0.5" fill="none" stroke="#d48a48" stroke-width="0.85"/>
<path d="M348,385.5H385.5" stroke="#4a4a4a" stroke-width="0.9"/>
<circle cx="366" cy="385.5" r="1.5" fill="#000"/>
<text x="390.85" y="278.5" font-size="9.82" text-anchor="end" fill="#000">2MASS J2140+1625AB</text>
<text x="390.15" y="285.9" font-size="6.3" text-anchor="end" fill="#2a8fdc" class="b">2MASS J17364839+0220426 (M8.0)</text>
<text x="390.15" y="291.9" font-size="6.3" text-anchor="end" fill="#dc2e38" class="r">2MASS J12212770+0257198 (L0.0)</text>
<text x="231.75" y="298" font-size="9.8" text-anchor="end">1.0</text>
<text x="231.75" y="330.1" font-size="9.8" text-anchor="end">0.5</text>
<text x="231.75" y="359.5" font-size="9.8" text-anchor="end">0.0</text>
<text x="231.75" y="367" font-size="9.8" text-anchor="end">1.2</text>
<text x="231.75" y="380.8" font-size="9.8" text-anchor="end">0.9</text>
<text transform="translate(211.35,313.2) rotate(-90)" font-size="9.8" text-anchor="middle">Normalized flux</text>
<text transform="translate(211.35,372.4) rotate(-90)" font-size="9.8" text-anchor="middle">&#916;mag</text>
<text x="245.35" y="401.6" font-size="9.8" text-anchor="middle">1.0</text>
<text x="299.3" y="401.6" font-size="9.8" text-anchor="middle">1.5</text>
<text x="353.25" y="401.6" font-size="9.8" text-anchor="middle">2.0</text>
<text x="315.45" y="412.1" font-size="9.8" text-anchor="middle">Wavelength (&#956;m)</text>
<clipPath id="c22"><rect x="436.6" y="268.8" width="161.8" height="90.2"/></clipPath>
<g clip-path="url(#c22)" fill="none" stroke-linejoin="round">
<path d="M436.68,352.89 438.05,348.79 439.42,343.32 440.78,339.22 442.15,336.48 443.52,334.43 444.88,333.75 446.25,333.07 447.62,333.75 448.98,333.07 450.35,334.02 451.72,337.17 453.08,335.8 454.45,333.75 455.82,332.38 457.87,330.74 459.23,329.24 460.6,327.19 461.97,326.5 463.33,327.73 464.7,328.42 466.07,329.1 467.43,327.05 468.8,327.73 470.17,329.79 471.53,329.79 472.9,330.47 474.27,328.42 475.63,327.73 477,329.79 478.37,329.1 479.73,327.73 481.78,327.73 483.83,328.42 485.88,329.1 486.84,331.15 487.93,335.94 489.3,337.99 490.67,338.67 492.03,338.67 493.4,339.36 495.45,340.04 497.5,340.31 499.55,340.59 501.6,341 503.65,340.04 505.7,338.95 507.75,338.26 509.8,337.85 511.85,337.85 513.9,337.85 515.95,338.12 518,338.12 516,338.42 518.08,337.73 520.15,337.04 522.23,337.45 524.3,338.42 526.38,339.8 528.45,341.6 531.22,343.54 533.98,345.34 536.75,346.3 539.52,347.41 541.59,348.1 543.67,347.41 545.74,347.13 547.82,347.41 550.58,348.1 553.35,348.38 556.12,348.52 558.88,348.24 561.65,347.83 564.42,347.55 567.18,347.41 569.95,347.27 572.72,347.13 575.48,347.13 578.25,347.13 581.02,347.27 583.78,347.41 585.86,347.83 587.24,348.79 589.32,350.18 592.08,350.87 594.85,351.28 597.62,351.98 599,352.25" stroke="#3a9ee6" stroke-width="0.85"/>
<path d="M436.68,350.16 438.05,346.05 439.42,340.59 440.78,336.48 442.15,333.75 443.52,332.38 444.88,331.7 446.25,331.02 447.62,332.38 448.98,331.7 450.35,333.07 451.72,336.48 453.08,335.12 454.45,333.07 455.82,331.7 457.87,330.33 459.23,328.96 460.6,326.91 461.97,326.23 463.33,327.6 464.7,328.28 466.07,328.96 467.43,326.91 468.8,327.6 470.17,329.65 471.53,329.65 472.9,330.33 474.27,328.28 475.63,327.6 477,329.65 478.37,328.96 479.73,327.6 481.78,327.6 483.83,328.28 485.88,328.96 486.84,331.02 487.93,335.8 489.3,337.85 490.67,338.54 492.03,338.54 493.4,339.22 495.45,339.9 497.5,340.31 499.55,340.59 501.6,341.27 503.65,340.31 505.7,339.22 507.75,338.54 509.8,338.12 511.85,338.12 513.9,338.26 515.95,338.54 518,338.54 516,339.11 518.08,338.42 520.15,337.73 522.23,338.14 524.3,339.11 526.38,340.49 528.45,342.29 531.22,344.23 533.98,346.03 536.75,347 539.52,348.1 541.59,348.79 543.67,348.1 545.74,347.83 547.82,348.1 550.58,348.79 553.35,349.21 556.12,349.49 558.88,349.49 561.65,349.21 564.42,349.07 567.18,348.93 569.95,348.79 572.72,348.79 575.48,348.79 578.25,348.93 581.02,349.07 583.78,349.21 585.86,349.49 587.24,350.18 589.32,351.15 592.08,351.56 594.85,351.98 597.62,352.53 599,352.94" stroke="#e2404a" stroke-width="0.85"/>
<path d="M436.68,337.85 438.05,332.38 439.42,327.6 440.78,323.5 442.15,318.71 443.52,314.61 444.88,313.93 446.25,309.14 447.62,306.41 448.98,305.72 450.35,303.67 451.72,310.51 452.4,315.98 453.77,310.51 455.13,306.41 456.5,304.36 457.87,302.99 459.23,299.57 460.6,296.15 461.28,293.42 462.65,295.47 464.02,297.52 465.38,295.47 466.75,299.57 468.12,294.79 469.48,298.2 470.85,300.25 472.22,300.94 473.58,298.89 474.95,297.52 476.32,300.25 477.68,302.99 479.05,298.2 480.42,296.15 482.47,296.84 484.52,297.52 485.88,298.89 486.84,303.67 487.66,310.51 488.62,315.98 489.98,318.71 492.03,318.71 493.4,320.76 494.77,321.45 496.82,321.45 498.87,321.17 500.92,321.72 502.97,320.76 505.02,319.39 507.07,318.03 509.12,317.34 511.17,316.66 513.22,316.66 515.27,317.34 518,317.34 516,317.67 518.08,316.98 520.15,316.01 522.23,316.28 524.3,316.98 526.38,319.05 528.45,321.82 530.52,324.58 532.6,327.35 534.67,330.12 535.37,330.4 536.75,331.5 538.83,333.58 540.9,335.65 542.28,337.73 543.67,337.04 545.74,336.34 547.82,335.65 549.89,337.04 551.27,337.73 552.66,338.42 554.04,337.73 556.12,338.7 558.88,338.42 561.65,338.14 564.42,337.73 567.18,337.04 569.95,336.62 572.72,336.34 575.48,336.34 578.25,336.76 581.02,337.04 583.78,337.73 585.86,338.42 587.24,340.08 589.32,341.46 592.08,342.57 594.85,343.68 597.62,344.37 599,344.64" stroke="#cf8f56" stroke-width="1.15"/>
<path d="M436.68,337.85 438.05,332.38 439.42,327.6 440.78,323.5 442.15,318.71 443.52,314.61 444.88,313.93 446.25,309.14 447.62,306.41 448.98,305.72 450.35,303.67 451.72,310.51 452.4,315.98 453.77,310.51 455.13,306.41 456.5,304.36 457.87,302.99 459.23,299.57 460.6,296.15 461.28,293.42 462.65,295.47 464.02,297.52 465.38,295.47 466.75,299.57 468.12,294.79 469.48,298.2 470.85,300.25 472.22,300.94 473.58,298.89 474.95,297.52 476.32,300.25 477.68,302.99 479.05,298.2 480.42,296.15 481.44,297.1 482.47,296.84 483.49,297.35 484.52,297.52 485.88,298.89 486.84,303.67 487.66,310.51 488.62,314.61 489.98,317.34" stroke="#141414" stroke-width="0.95"/>
<path d="M494.77,319.39 495.79,320.14 496.82,320.35 497.84,320.94 498.87,320.76 499.89,321.13 500.92,321.45 501.94,320.69 502.97,320.76 503.99,320.53 505.02,319.39 506.04,318.6 507.07,318.03 508.09,316.67 509.12,317.34 510.14,317.24 511.17,316.66 512.19,316.66 513.22,316.66 514.24,317.02 515.27,317.34 516.63,317.79 518,317.34 517,318.64 516,317.67 517.04,317.06 518.08,316.98 519.11,315.83 520.15,316.01 521.19,316.3 522.23,316.28 523.26,316.06 524.3,316.98 525.34,318.45 526.38,319.05 527.41,320.53 528.45,321.82 529.49,323.28 530.52,324.58 531.56,325.4 532.6,327.35 533.64,328.69 534.67,330.12 535.37,330.4" stroke="#141414" stroke-width="0.95"/>
<path d="M491.21,315.43 492.31,313.24" stroke="#141414" stroke-width="0.95"/>
</g>
<path d="M441.81,268.8v1.6M441.81,357.4v3.2M441.81,388.3v-1.6M452.25,268.8v3.2M452.25,355.8v6.4M452.25,388.3v-3.2M462.69,268.8v1.6M462.69,357.4v3.2M462.69,388.3v-1.6M473.13,268.8v1.6M473.13,357.4v3.2M473.13,388.3v-1.6M483.57,268.8v1.6M483.57,357.4v3.2M483.57,388.3v-1.6M494.01,268.8v1.6M494.01,357.4v3.2M494.01,388.3v-1.6M504.45,268.8v3.2M504.45,355.8v6.4M504.45,388.3v-3.2M514.89,268.8v1.6M514.89,357.4v3.2M514.89,388.3v-1.6M525.33,268.8v1.6M525.33,357.4v3.2M525.33,388.3v-1.6M535.77,268.8v1.6M535.77,357.4v3.2M535.77,388.3v-1.6M546.21,268.8v1.6M546.21,357.4v3.2M546.21,388.3v-1.6M556.65,268.8v3.2M556.65,355.8v6.4M556.65,388.3v-3.2M567.09,268.8v1.6M567.09,357.4v3.2M567.09,388.3v-1.6M577.53,268.8v1.6M577.53,357.4v3.2M577.53,388.3v-1.6M587.97,268.8v1.6M587.97,357.4v3.2M587.97,388.3v-1.6M436.6,352.28h1.4M598.4,352.28h-1.4M436.6,345.86h1.4M598.4,345.86h-1.4M436.6,339.44h1.4M598.4,339.44h-1.4M436.6,333.02h1.4M598.4,333.02h-1.4M436.6,326.6h3.2M598.4,326.6h-3.2M436.6,320.18h1.4M598.4,320.18h-1.4M436.6,313.76h1.4M598.4,313.76h-1.4M436.6,307.34h1.4M598.4,307.34h-1.4M436.6,300.92h1.4M598.4,300.92h-1.4M436.6,294.5h3.2M598.4,294.5h-3.2M436.6,288.08h1.4M598.4,288.08h-1.4M436.6,281.66h1.4M598.4,281.66h-1.4M436.6,275.24h1.4M598.4,275.24h-1.4M436.6,362.7h1.4M598.4,362.7h-1.4M436.6,366.3h3.2M598.4,366.3h-3.2M436.6,370h1.4M598.4,370h-1.4M436.6,373.6h1.4M598.4,373.6h-1.4M436.6,377.6h1.4M598.4,377.6h-1.4M436.6,381.3h3.2M598.4,381.3h-3.2M436.6,385h1.4M598.4,385h-1.4" stroke="#3a3a3a" stroke-width="0.9" fill="none"/>
<path d="M436.6,268.8H598.4V388.3H436.6ZM436.6,359H598.4" stroke="#3a3a3a" stroke-width="1.0" fill="none"/>
<path d="M470.3,376.8H486.8" stroke="#4a4a4a" stroke-width="0.9"/>
<rect x="476.5" y="379.3" width="3.4" height="3.4" rx="0.5" fill="none" stroke="#d48a48" stroke-width="0.85"/>
<circle cx="478.2" cy="376.8" r="1.5" fill="#000"/>
<path d="M503.3,376.8H534.2" stroke="#4a4a4a" stroke-width="0.9"/>
<rect x="516.3" y="375.1" width="3.4" height="3.4" rx="0.5" fill="none" stroke="#d48a48" stroke-width="0.85"/>
<circle cx="518" cy="376.8" r="1.5" fill="#000"/>
<path d="M560,370.7H594.2" stroke="#e9b382" stroke-width="1.2"/>
<circle cx="571.7" cy="370.7" r="1.75" fill="none" stroke="#d48a48" stroke-width="0.85"/>
<circle cx="577.5" cy="370.7" r="1.75" fill="none" stroke="#d48a48" stroke-width="0.85"/>
<path d="M555.8,376.5H588" stroke="#4a4a4a" stroke-width="0.9"/>
<circle cx="572.2" cy="376.5" r="1.5" fill="#000"/>
<text x="592.9" y="278.5" font-size="9.82" text-anchor="end" fill="#000">2MASS J2206-2047AB</text>
<text x="592.2" y="285.9" font-size="6.3" text-anchor="end" fill="#2a8fdc" class="b">LEHPM 1-6443 (M8.5)</text>
<text x="592.2" y="291.9" font-size="6.3" text-anchor="end" fill="#dc2e38" class="r">2MASS J17364839+0220426 (M8.0)</text>
<text x="433.8" y="298" font-size="9.8" text-anchor="end">1.0</text>
<text x="433.8" y="330.1" font-size="9.8" text-anchor="end">0.5</text>
<text x="433.8" y="359.5" font-size="9.8" text-anchor="end">0.0</text>
<text x="433.8" y="370.3" font-size="9.8" text-anchor="end">0.2</text>
<text x="433.8" y="385" font-size="9.8" text-anchor="end">0.0</text>
<text transform="translate(413.4,313.2) rotate(-90)" font-size="9.8" text-anchor="middle">Normalized flux</text>
<text transform="translate(413.4,372.4) rotate(-90)" font-size="9.8" text-anchor="middle">&#916;mag</text>
<text x="452.25" y="401.6" font-size="9.8" text-anchor="middle">1.0</text>
<text x="504.45" y="401.6" font-size="9.8" text-anchor="middle">1.5</text>
<text x="556.65" y="401.6" font-size="9.8" text-anchor="middle">2.0</text>
<text x="517.5" y="412.1" font-size="9.8" text-anchor="middle">Wavelength (&#956;m)</text>
<clipPath id="c30"><rect x="32.5" y="402.45" width="161.8" height="90.2"/></clipPath>
<g clip-path="url(#c30)" fill="none" stroke-linejoin="round">
<path d="M32.68,473.22 34.05,471.17 35.42,470.48 36.78,471.85 37.74,478 38.83,476.64 40.2,474.59 42.25,471.85 44.3,467.75 46.35,464.33 48.4,462.28 50.45,462.96 52.5,461.6 54.55,460.91 55.92,459.55 57.28,462.28 58.65,463.65 60.02,464.33 61.38,461.6 62.75,458.86 64.12,462.28 65.48,460.23 66.85,458.18 68.22,454.76 69.58,453.39 71.63,454.08 73.68,454.76 75.05,456.13 75.73,463.65 76.42,469.12 77.78,471.85 79.83,472.54 81.88,473.22 83.93,474.59 85.98,475.27 88.03,474.59 90.08,473.22 92.13,471.85 94.18,470.48 96.23,469.12 98.28,467.75 100.33,466.38 102.38,465.02 104.43,464.33 106.48,464.74 108.53,464.33 110.58,463.65 112.63,462.96 114,462.55 112,462.74 114.08,462.46 116.15,463.01 118.22,465.5 120.3,468.27 122.38,471.04 124.45,473.11 126.53,474.49 128.6,475.46 130.68,476.29 132.75,477.26 134.82,478.64 136.9,477.26 138.97,476.29 140.36,475.88 141.74,477.26 143.82,478.64 146.58,479.34 149.35,479.34 152.12,478.64 154.88,477.68 157.65,476.57 160.42,475.46 163.18,474.49 165.95,474.08 168.72,474.08 171.48,474.22 174.25,474.49 177.02,474.91 179.78,475.6 181.86,476.57 183.93,477.95 186.7,479.06 189.47,479.61 192.23,480.03 195,480.44" stroke="#3a9ee6" stroke-width="0.85"/>
<path d="M32.68,485.52 34.05,484.16 35.42,482.79 37.47,480.74 39.52,478.69 41.57,476.64 43.62,475.27 45.67,473.9 47.03,472.54 48.4,474.59 49.77,478.69 51.13,481.42 53.18,482.11 55.23,481.42 57.28,481.42 58.65,479.37 60.02,475.95 61.38,473.22 62.75,471.17 64.12,469.8 65.48,469.12 66.85,467.75 68.22,466.38 69.58,467.75 70.95,468.43 72.32,469.12 73.68,471.17 75.05,475.95 75.73,484.16 76.42,488.26 77.78,490.31 79.83,490.99 81.88,490.31 83.93,490.72 85.98,490.99 88.03,490.31 90.08,488.94 92.13,487.57 94.18,486.21 96.23,484.16 98.28,481.42 100.33,478.69 102.38,477.32 103.75,476.64 105.12,477.32 106.48,479.37 107.85,481.42 109.9,482.11 111.95,482.79 114,483.47 112,482.38 114.08,483.21 116.15,483.76 118.22,484.87 120.3,486.25 122.38,487.36 124.45,488.33 126.53,489.3 128.6,490.13 130.68,491.09 132.75,491.51 134.82,490.96 136.9,489.71 138.97,488.74 141.05,489.3 143.12,490.13 145.89,490.68 148.66,490.13 151.43,489.3 154.19,488.47 156.96,487.91 159.72,487.64 162.49,487.64 165.26,487.91 168.03,488.33 170.79,489.02 173.56,489.57 176.32,489.99 179.09,490.4 181.86,491.09 183.93,491.79 186.7,492.06 189.47,492.06 192.23,492.2 195,492.34" stroke="#e2404a" stroke-width="0.85"/>
<path d="M32.68,465.02 34.05,460.91 35.42,457.5 36.78,460.91 37.74,465.02 38.83,462.28 40.2,458.18 41.57,454.08 42.93,450.66 44.3,448.61 45.67,446.56 47.03,443.82 48.4,443.82 49.77,445.88 51.13,447.93 52.5,449.29 53.87,451.34 54.96,446.56 55.92,445.88 57.28,450.66 58.65,446.56 60.02,444.51 61.38,441.77 62.75,437.67 64.12,435.62 65.48,439.72 66.85,434.94 68.22,429.47 69.58,428.79 70.95,430.84 72.32,432.2 73.68,433.57 74.64,437.67 75.46,448.61 76.01,459.55 76.83,469.12 77.78,471.17 79.15,470.48 80.52,468.43 81.88,470.48 83.25,471.85 84.62,472.54 85.98,473.22 87.35,471.85 88.72,469.8 90.08,468.43 91.45,467.07 92.82,465.7 94.18,463.65 95.55,460.91 96.92,458.18 98.28,455.45 99.65,452.71 101.02,450.66 102.38,449.29 103.75,448.61 105.12,449.29 106.48,451.34 107.85,452.71 109.22,452.03 110.58,451.34 111.95,452.03 113.32,452.71 114,453.39 112,452.36 114.08,452.36 116.15,453.74 118.22,457.2 120.3,462.04 122.38,466.89 124.45,470.34 126.53,472.42 128.6,473.53 129.98,473.11 131.37,474.49 132.75,475.88 134.13,477.26 135.24,477.95 136.21,475.88 138.28,473.8 140.36,472.42 141.74,473.8 143.12,475.88 145.2,476.57 147.97,476.29 150.73,475.46 152.81,473.8 154.88,472.14 156.96,470.76 159.03,469.65 161.11,468.96 163.18,468.55 165.26,468.68 167.33,469.1 169.41,470.07 171.48,471.31 173.56,472.14 175.63,472.7 177.71,473.11 179.78,473.8 181.86,474.91 183.93,477.26 186.01,477.95 188.08,478.37 190.16,478.92 192.23,479.34 195,479.75" stroke="#cf8f56" stroke-width="1.15"/>
<path d="M32.68,465.02 34.05,460.91 35.42,457.5 36.78,460.91 37.74,465.02 38.83,462.28 40.2,458.18 41.57,454.08 42.93,450.66 44.3,448.61 45.67,446.56 47.03,443.82 48.4,443.82 49.77,445.88 51.13,447.93 52.5,449.29 53.87,451.34 54.96,446.56 55.92,445.88 57.28,450.66 58.65,446.56 60.02,444.51 61.38,441.77 62.75,437.67 64.12,435.62 65.48,439.72 66.85,434.94 68.22,429.47 69.58,428.79 70.95,430.84 72.32,432.2 73.68,433.57 74.64,437.67 75.46,448.61 76.01,459.55 76.83,469.12 77.78,471.17 79.15,470.48 80.52,468.43 81.88,470.48 83.25,471.85 84.62,472.54 85.98,473.22 87.35,471.85 88.72,469.8 90.08,468.43 91.45,467.07 92.82,465.7 94.18,463.65 95.55,460.91 96.92,458.18 98.28,455.45 99.65,452.71 101.02,450.66 102.38,449.29 103.75,448.61 105.12,449.29 106.48,451.34 107.85,452.71 109.22,452.03 110.58,451.34 111.95,452.03 113.32,452.71 114,453.39 113,453.45 112,452.36 113.04,453.33 114.08,452.36 115.11,453.23 116.15,453.74 117.19,455.37 118.22,457.2 119.26,460.08 120.3,462.04 121.34,464.26 122.38,466.89 123.41,468.49 124.45,470.34 125.49,472.17 126.53,472.42 127.56,473.05 128.6,473.53 129.98,473.11 131.37,474.49 132.75,475.88 134.13,477.26 135.24,477.95 136.21,475.88 137.25,474.73 138.28,473.8 139.32,473.27 140.36,472.42 141.74,473.8 143.12,475.88 144.16,476.51 145.2,476.57 146.58,476.18 147.97,476.29 149.35,476.32 150.73,475.46 151.77,474.35 152.81,473.8 153.85,472.4 154.88,472.14 155.92,471.92 156.96,470.76 158,470.16 159.03,469.65 160.07,469.41 161.11,468.96 162.15,469.59 163.18,468.55 164.22,469.14 165.26,468.68 166.3,468.83 167.33,469.1 168.37,468.75 169.41,470.07 170.45,469.16 171.48,471.31 172.52,471.59 173.56,472.14 174.6,473.21 175.63,472.7 176.67,472.77 177.71,473.11 178.75,473.3 179.78,473.8 180.82,473.55 181.86,474.91 182.9,475.86 183.93,477.26 184.97,477.68 186.01,477.95 187.05,478.17 188.08,478.37 189.12,478.56 190.16,478.92 191.2,478.86 192.23,479.34 193.62,479.63 195,479.75" stroke="#141414" stroke-width="0.95"/>
</g>
<path d="M38.1,402.45v3.2M38.1,489.45v6.4M38.1,521.95v-3.2M49.26,402.45v1.6M49.26,491.05v3.2M49.26,521.95v-1.6M60.42,402.45v1.6M60.42,491.05v3.2M60.42,521.95v-1.6M71.58,402.45v1.6M71.58,491.05v3.2M71.58,521.95v-1.6M82.74,402.45v1.6M82.74,491.05v3.2M82.74,521.95v-1.6M93.9,402.45v3.2M93.9,489.45v6.4M93.9,521.95v-3.2M105.06,402.45v1.6M105.06,491.05v3.2M105.06,521.95v-1.6M116.22,402.45v1.6M116.22,491.05v3.2M116.22,521.95v-1.6M127.38,402.45v1.6M127.38,491.05v3.2M127.38,521.95v-1.6M138.54,402.45v1.6M138.54,491.05v3.2M138.54,521.95v-1.6M149.7,402.45v3.2M149.7,489.45v6.4M149.7,521.95v-3.2M160.86,402.45v1.6M160.86,491.05v3.2M160.86,521.95v-1.6M172.02,402.45v1.6M172.02,491.05v3.2M172.02,521.95v-1.6M183.18,402.45v1.6M183.18,491.05v3.2M183.18,521.95v-1.6M32.5,485.93h1.4M194.3,485.93h-1.4M32.5,479.51h1.4M194.3,479.51h-1.4M32.5,473.09h1.4M194.3,473.09h-1.4M32.5,466.67h1.4M194.3,466.67h-1.4M32.5,460.25h3.2M194.3,460.25h-3.2M32.5,453.83h1.4M194.3,453.83h-1.4M32.5,447.41h1.4M194.3,447.41h-1.4M32.5,440.99h1.4M194.3,440.99h-1.4M32.5,434.57h1.4M194.3,434.57h-1.4M32.5,428.15h3.2M194.3,428.15h-3.2M32.5,421.73h1.4M194.3,421.73h-1.4M32.5,415.31h1.4M194.3,415.31h-1.4M32.5,408.89h1.4M194.3,408.89h-1.4M32.5,496.7h1.4M194.3,496.7h-1.4M32.5,500.3h3.2M194.3,500.3h-3.2M32.5,504h1.4M194.3,504h-1.4M32.5,507.6h1.4M194.3,507.6h-1.4M32.5,511.3h1.4M194.3,511.3h-1.4M32.5,515h3.2M194.3,515h-3.2M32.5,518.6h1.4M194.3,518.6h-1.4" stroke="#3a3a3a" stroke-width="0.9" fill="none"/>
<path d="M32.5,402.45H194.3V521.95H32.5ZM32.5,492.65H194.3" stroke="#3a3a3a" stroke-width="1.0" fill="none"/>
<path d="M57.5,521.3H75" stroke="#e9b382" stroke-width="1.2"/>
<rect x="64.6" y="519.1" width="3.4" height="3.4" rx="0.5" fill="none" stroke="#d48a48" stroke-width="0.85"/>
<path d="M93.3,515H125.3" stroke="#e9b382" stroke-width="1.2"/>
<rect x="107.5" y="513.3" width="3.4" height="3.4" rx="0.5" fill="none" stroke="#d48a48" stroke-width="0.85"/>
<path d="M105.3,510.5H127.5" stroke="#4a4a4a" stroke-width="0.9"/>
<circle cx="116.3" cy="510.5" r="1.5" fill="#000"/>
<path d="M149.2,504.5H183.3" stroke="#e9b382" stroke-width="1.2"/>
<path d="M170.8,504.5H190" stroke="#4a4a4a" stroke-width="0.9"/>
<rect x="165" y="502.8" width="3.4" height="3.4" rx="0.5" fill="none" stroke="#d48a48" stroke-width="0.85"/>
<rect x="170.3" y="500.8" width="3.4" height="3.4" rx="0.5" fill="none" stroke="#d48a48" stroke-width="0.85"/>
<circle cx="172" cy="504.5" r="1.5" fill="#000"/>
<text x="188.8" y="412.15" font-size="9.82" text-anchor="end" fill="#000">DENIS-P J2252-1730AB</text>
<text x="188.1" y="419.55" font-size="6.3" text-anchor="end" fill="#2a8fdc" class="b">2MASS J20360316+1051295 (L3.5)</text>
<text x="188.1" y="425.55" font-size="6.3" text-anchor="end" fill="#dc2e38" class="r">SDSS J120602.51+281328.7 (T3.0)</text>
<text x="29.7" y="431.65" font-size="9.8" text-anchor="end">1.0</text>
<text x="29.7" y="463.75" font-size="9.8" text-anchor="end">0.5</text>
<text x="29.7" y="493.15" font-size="9.8" text-anchor="end">0.0</text>
<text x="29.7" y="504.3" font-size="9.8" text-anchor="end">2</text>
<text x="29.7" y="518.8" font-size="9.8" text-anchor="end">1</text>
<text transform="translate(9.3,446.85) rotate(-90)" font-size="9.8" text-anchor="middle">Normalized flux</text>
<text transform="translate(9.3,506.05) rotate(-90)" font-size="9.8" text-anchor="middle">&#916;mag</text>
<text x="38.1" y="535.25" font-size="9.8" text-anchor="middle">1.0</text>
<text x="93.9" y="535.25" font-size="9.8" text-anchor="middle">1.5</text>
<text x="149.7" y="535.25" font-size="9.8" text-anchor="middle">2.0</text>
<text x="113.4" y="545.75" font-size="9.8" text-anchor="middle">Wavelength (&#956;m)</text></svg>
</body></html>
